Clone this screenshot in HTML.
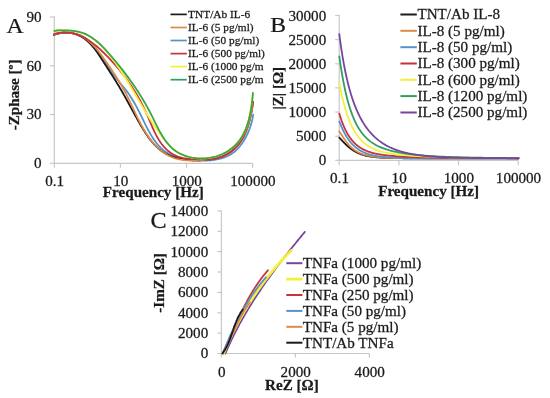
<!DOCTYPE html>
<html><head><meta charset="utf-8"><style>
html,body{margin:0;padding:0;background:#fff;width:550px;height:398px;overflow:hidden;font-family:"Liberation Serif",serif;}
svg{display:block;filter:blur(0.4px)}
</style></head><body>
<svg width="550" height="398" viewBox="0 0 550 398">
<rect width="550" height="398" fill="#fff"/>
<path d="M54.3,16.5 V163.3 H252.6" fill="none" stroke="#c8c8c8" stroke-width="1.2"/>
<path d="M49.8,163.3 H54.3" stroke="#c8c8c8" stroke-width="1.2"/>
<path d="M49.8,114.5 H54.3" stroke="#c8c8c8" stroke-width="1.2"/>
<path d="M49.8,65.8 H54.3" stroke="#c8c8c8" stroke-width="1.2"/>
<path d="M49.8,17.0 H54.3" stroke="#c8c8c8" stroke-width="1.2"/>
<path d="M54.3,163.3 V167.8" stroke="#c8c8c8" stroke-width="1.2"/>
<path d="M120.4,163.3 V167.8" stroke="#c8c8c8" stroke-width="1.2"/>
<path d="M186.5,163.3 V167.8" stroke="#c8c8c8" stroke-width="1.2"/>
<path d="M252.6,163.3 V167.8" stroke="#c8c8c8" stroke-width="1.2"/>
<path d="M54.26,34.50 L55.38,34.16 L56.52,33.85 L57.68,33.58 L58.86,33.34 L60.05,33.14 L61.26,32.97 L62.48,32.84 L63.71,32.75 L64.95,32.69 L66.19,32.67 L67.43,32.68 L68.67,32.74 L69.90,32.83 L71.13,32.96 L72.35,33.13 L73.57,33.34 L74.76,33.58 L75.94,33.87 L77.11,34.20 L78.25,34.57 L79.37,34.98 L80.46,35.43 L81.52,35.92 L82.56,36.45 L83.57,37.02 L84.55,37.63 L85.51,38.28 L86.45,38.95 L87.36,39.66 L88.26,40.41 L89.13,41.18 L89.98,41.98 L90.81,42.80 L91.63,43.65 L92.43,44.52 L93.21,45.42 L93.98,46.34 L94.73,47.27 L95.47,48.22 L96.20,49.19 L96.92,50.17 L97.63,51.16 L98.33,52.16 L99.02,53.18 L99.71,54.20 L100.39,55.23 L101.07,56.26 L101.74,57.29 L102.41,58.33 L103.07,59.37 L103.74,60.41 L104.41,61.44 L105.07,62.47 L105.74,63.49 L106.42,64.51 L107.09,65.52 L107.77,66.52 L108.45,67.52 L109.13,68.51 L109.82,69.50 L110.51,70.49 L111.20,71.46 L111.90,72.44 L112.60,73.40 L113.31,74.37 L114.02,75.33 L114.74,76.28 L115.46,77.23 L116.18,78.18 L116.91,79.12 L117.65,80.06 L118.39,80.99 L119.13,81.92 L119.88,82.85 L120.64,83.77 L121.41,84.70 L122.18,85.61 L122.94,86.53 L123.71,87.45 L124.47,88.37 L125.23,89.30 L125.97,90.23 L126.70,91.17 L127.41,92.11 L128.11,93.06 L128.80,94.02 L129.47,94.99 L130.13,95.96 L130.78,96.94 L131.41,97.93 L132.04,98.92 L132.65,99.92 L133.26,100.93 L133.85,101.95 L134.44,102.97 L135.02,103.99 L135.59,105.03 L136.16,106.07 L136.72,107.11 L137.28,108.17 L137.83,109.22 L138.37,110.29 L138.92,111.36 L139.46,112.44 L140.00,113.52 L140.53,114.61 L141.07,115.70 L141.61,116.80 L142.14,117.90 L142.68,119.01 L143.22,120.12 L143.76,121.23 L144.30,122.34 L144.85,123.45 L145.40,124.56 L145.95,125.66 L146.51,126.77 L147.08,127.86 L147.65,128.96 L148.23,130.05 L148.82,131.13 L149.42,132.20 L150.02,133.26 L150.63,134.32 L151.26,135.36 L151.89,136.39 L152.54,137.42 L153.20,138.42 L153.87,139.42 L154.55,140.39 L155.25,141.35 L155.96,142.30 L156.69,143.23 L157.43,144.13 L158.19,145.02 L158.97,145.89 L159.76,146.74 L160.57,147.56 L161.40,148.36 L162.25,149.14 L163.12,149.89 L164.01,150.61 L164.92,151.31 L165.85,151.98 L166.80,152.62 L167.78,153.24 L168.78,153.82 L169.81,154.37 L170.85,154.89 L171.91,155.39 L173.00,155.86 L174.10,156.30 L175.22,156.72 L176.35,157.11 L177.50,157.47 L178.66,157.81 L179.84,158.13 L181.03,158.43 L182.23,158.70 L183.44,158.95 L184.66,159.18 L185.89,159.39 L187.13,159.58 L188.37,159.76 L189.62,159.91 L190.87,160.05 L192.13,160.17 L193.39,160.27 L194.65,160.36 L195.91,160.43 L197.17,160.49 L198.43,160.54 L199.69,160.57 L200.95,160.59 L202.20,160.60 L203.44,160.60 L204.68,160.58 L205.92,160.54 L207.15,160.49 L208.37,160.43 L209.59,160.35 L210.80,160.25 L212.00,160.13 L213.19,159.99 L214.37,159.83 L215.54,159.64 L216.71,159.44 L217.86,159.21 L219.00,158.96 L220.13,158.68 L221.25,158.38 L222.35,158.05 L223.44,157.70 L224.52,157.31 L225.59,156.90 L226.63,156.46 L227.67,155.98 L228.69,155.48 L229.69,154.94 L230.67,154.37 L231.64,153.76 L232.59,153.12 L233.52,152.44 L234.43,151.73 L235.33,150.98 L236.20,150.20 L237.05,149.38 L237.89,148.52 L238.70,147.64 L239.50,146.73 L240.27,145.79 L241.02,144.82 L241.76,143.83 L242.47,142.81 L243.16,141.78 L243.83,140.72 L244.48,139.64 L245.11,138.55 L245.72,137.45 L246.31,136.33 L246.87,135.20 L247.41,134.05 L247.93,132.90 L248.43,131.74 L248.91,130.58 L249.36,129.41 L249.80,128.24 L250.21,127.07 L250.59,125.90 L250.96,124.73 L251.30,123.57 L251.62,122.41 L251.91,121.26 L252.18,120.12 L252.43,118.98 L252.66,117.86 L252.86,116.76 L253.03,115.67 L253.18,114.59" fill="none" stroke="#5592cc" stroke-width="1.8" stroke-linecap="round" stroke-linejoin="round"/>
<path d="M53.98,34.97 L55.24,34.46 L56.51,34.01 L57.79,33.63 L59.07,33.30 L60.35,33.04 L61.63,32.83 L62.91,32.67 L64.19,32.58 L65.46,32.53 L66.73,32.54 L67.99,32.61 L69.24,32.72 L70.47,32.88 L71.70,33.09 L72.91,33.35 L74.11,33.66 L75.29,34.01 L76.45,34.40 L77.59,34.84 L78.71,35.32 L79.80,35.84 L80.87,36.40 L81.91,36.99 L82.93,37.63 L83.93,38.30 L84.90,39.00 L85.85,39.73 L86.77,40.50 L87.68,41.29 L88.57,42.11 L89.44,42.96 L90.29,43.84 L91.12,44.73 L91.94,45.65 L92.75,46.59 L93.54,47.55 L94.31,48.53 L95.08,49.52 L95.83,50.52 L96.57,51.54 L97.31,52.57 L98.03,53.61 L98.75,54.66 L99.46,55.72 L100.16,56.78 L100.86,57.85 L101.55,58.92 L102.24,59.99 L102.93,61.06 L103.62,62.13 L104.31,63.19 L104.99,64.26 L105.68,65.32 L106.36,66.38 L107.04,67.43 L107.73,68.49 L108.41,69.54 L109.08,70.59 L109.76,71.64 L110.43,72.69 L111.11,73.74 L111.77,74.79 L112.44,75.84 L113.11,76.88 L113.77,77.93 L114.43,78.98 L115.09,80.02 L115.74,81.07 L116.39,82.12 L117.04,83.17 L117.68,84.22 L118.32,85.27 L118.96,86.33 L119.59,87.38 L120.22,88.44 L120.84,89.50 L121.46,90.56 L122.08,91.62 L122.69,92.69 L123.30,93.76 L123.90,94.83 L124.51,95.90 L125.10,96.98 L125.70,98.05 L126.30,99.13 L126.89,100.21 L127.48,101.29 L128.07,102.37 L128.66,103.46 L129.25,104.54 L129.84,105.63 L130.43,106.72 L131.02,107.81 L131.62,108.90 L132.21,109.99 L132.80,111.09 L133.40,112.18 L133.99,113.27 L134.59,114.37 L135.20,115.46 L135.80,116.56 L136.41,117.65 L137.02,118.75 L137.64,119.85 L138.26,120.95 L138.88,122.04 L139.51,123.14 L140.15,124.24 L140.79,125.33 L141.43,126.43 L142.09,127.52 L142.75,128.61 L143.41,129.70 L144.09,130.78 L144.77,131.85 L145.46,132.92 L146.16,133.98 L146.87,135.03 L147.59,136.07 L148.33,137.10 L149.07,138.12 L149.82,139.12 L150.59,140.11 L151.37,141.08 L152.16,142.04 L152.97,142.98 L153.79,143.90 L154.62,144.80 L155.47,145.68 L156.34,146.54 L157.22,147.38 L158.12,148.20 L159.03,148.99 L159.97,149.75 L160.92,150.49 L161.88,151.20 L162.87,151.88 L163.88,152.54 L164.91,153.16 L165.95,153.75 L167.02,154.31 L168.10,154.85 L169.20,155.35 L170.31,155.83 L171.45,156.28 L172.59,156.70 L173.75,157.10 L174.93,157.47 L176.11,157.82 L177.31,158.14 L178.52,158.43 L179.74,158.70 L180.97,158.95 L182.21,159.18 L183.45,159.38 L184.71,159.56 L185.97,159.73 L187.24,159.87 L188.51,159.99 L189.79,160.09 L191.07,160.17 L192.35,160.23 L193.64,160.27 L194.93,160.30 L196.22,160.31 L197.51,160.30 L198.80,160.28 L200.09,160.24 L201.38,160.19 L202.66,160.12 L203.95,160.04 L205.22,159.94 L206.50,159.83 L207.76,159.70 L209.02,159.55 L210.28,159.39 L211.52,159.20 L212.76,158.99 L213.98,158.76 L215.20,158.51 L216.41,158.23 L217.60,157.92 L218.78,157.59 L219.94,157.23 L221.10,156.84 L222.23,156.42 L223.35,155.97 L224.45,155.48 L225.54,154.96 L226.61,154.41 L227.65,153.82 L228.68,153.19 L229.69,152.54 L230.68,151.85 L231.65,151.13 L232.59,150.37 L233.52,149.59 L234.42,148.78 L235.30,147.94 L236.16,147.08 L236.99,146.18 L237.81,145.26 L238.59,144.31 L239.36,143.34 L240.09,142.35 L240.81,141.33 L241.50,140.28 L242.16,139.22 L242.79,138.14 L243.40,137.03 L243.99,135.91 L244.55,134.77 L245.09,133.61 L245.60,132.44 L246.10,131.25 L246.57,130.06 L247.02,128.85 L247.46,127.63 L247.87,126.40 L248.26,125.17 L248.64,123.93 L249.00,122.69 L249.34,121.44 L249.67,120.19 L249.98,118.94 L250.28,117.69 L250.56,116.44 L250.83,115.20 L251.09,113.96 L251.34,112.73 L251.57,111.50 L251.80,110.28 L252.01,109.07 L252.22,107.87 L252.41,106.68 L252.60,105.50 L252.78,104.34 L252.96,103.20 L253.13,102.07" fill="none" stroke="#1a1a1a" stroke-width="1.8" stroke-linecap="round" stroke-linejoin="round"/>
<path d="M54.16,34.49 L55.38,34.06 L56.61,33.68 L57.85,33.36 L59.10,33.08 L60.35,32.86 L61.61,32.68 L62.87,32.56 L64.13,32.48 L65.39,32.45 L66.65,32.46 L67.90,32.53 L69.15,32.63 L70.39,32.78 L71.63,32.98 L72.85,33.22 L74.06,33.50 L75.26,33.82 L76.44,34.18 L77.60,34.58 L78.75,35.02 L79.87,35.50 L80.97,36.02 L82.05,36.57 L83.11,37.16 L84.14,37.79 L85.16,38.44 L86.16,39.13 L87.13,39.85 L88.09,40.59 L89.03,41.37 L89.95,42.17 L90.86,42.99 L91.75,43.84 L92.63,44.71 L93.49,45.60 L94.34,46.50 L95.18,47.43 L96.00,48.37 L96.81,49.33 L97.61,50.30 L98.41,51.29 L99.19,52.28 L99.96,53.29 L100.73,54.30 L101.48,55.32 L102.23,56.35 L102.98,57.38 L103.72,58.42 L104.45,59.45 L105.18,60.49 L105.91,61.52 L106.63,62.56 L107.35,63.59 L108.07,64.63 L108.78,65.67 L109.49,66.70 L110.20,67.74 L110.90,68.77 L111.59,69.81 L112.28,70.85 L112.97,71.89 L113.65,72.93 L114.33,73.97 L115.00,75.01 L115.67,76.06 L116.33,77.10 L116.99,78.15 L117.65,79.20 L118.29,80.25 L118.94,81.31 L119.57,82.36 L120.21,83.42 L120.83,84.48 L121.45,85.55 L122.07,86.62 L122.68,87.69 L123.28,88.76 L123.88,89.84 L124.47,90.92 L125.06,92.01 L125.63,93.10 L126.21,94.19 L126.77,95.29 L127.33,96.39 L127.89,97.49 L128.43,98.60 L128.98,99.71 L129.52,100.83 L130.05,101.95 L130.59,103.07 L131.12,104.19 L131.65,105.31 L132.18,106.44 L132.70,107.57 L133.23,108.69 L133.76,109.82 L134.29,110.95 L134.82,112.08 L135.36,113.21 L135.90,114.34 L136.44,115.47 L136.98,116.60 L137.53,117.73 L138.09,118.85 L138.65,119.97 L139.22,121.09 L139.80,122.21 L140.38,123.33 L140.97,124.44 L141.57,125.55 L142.18,126.66 L142.80,127.76 L143.44,128.86 L144.08,129.95 L144.73,131.03 L145.39,132.11 L146.07,133.18 L146.75,134.24 L147.45,135.29 L148.16,136.33 L148.88,137.36 L149.62,138.38 L150.36,139.38 L151.12,140.37 L151.90,141.35 L152.68,142.31 L153.48,143.25 L154.29,144.18 L155.12,145.09 L155.96,145.98 L156.82,146.85 L157.68,147.70 L158.57,148.53 L159.47,149.34 L160.38,150.12 L161.31,150.88 L162.26,151.62 L163.22,152.33 L164.20,153.02 L165.19,153.67 L166.20,154.31 L167.23,154.91 L168.27,155.48 L169.34,156.02 L170.41,156.54 L171.51,157.02 L172.63,157.47 L173.76,157.88 L174.91,158.26 L176.08,158.61 L177.26,158.92 L178.47,159.20 L179.68,159.45 L180.91,159.67 L182.16,159.86 L183.41,160.03 L184.68,160.17 L185.95,160.28 L187.24,160.37 L188.53,160.44 L189.82,160.48 L191.12,160.51 L192.43,160.52 L193.74,160.50 L195.05,160.48 L196.36,160.43 L197.67,160.37 L198.98,160.30 L200.29,160.22 L201.59,160.13 L202.89,160.02 L204.18,159.91 L205.47,159.79 L206.75,159.67 L208.01,159.53 L209.27,159.39 L210.52,159.23 L211.77,159.06 L212.99,158.87 L214.21,158.67 L215.42,158.44 L216.61,158.19 L217.80,157.92 L218.96,157.62 L220.12,157.29 L221.26,156.93 L222.38,156.53 L223.49,156.10 L224.59,155.64 L225.66,155.14 L226.72,154.59 L227.76,154.01 L228.79,153.39 L229.79,152.73 L230.78,152.04 L231.74,151.31 L232.69,150.55 L233.61,149.75 L234.51,148.93 L235.39,148.07 L236.25,147.18 L237.08,146.27 L237.89,145.33 L238.68,144.36 L239.44,143.37 L240.17,142.36 L240.88,141.32 L241.56,140.26 L242.22,139.18 L242.85,138.08 L243.45,136.97 L244.02,135.83 L244.58,134.68 L245.10,133.52 L245.61,132.34 L246.09,131.15 L246.56,129.95 L247.00,128.75 L247.42,127.53 L247.83,126.31 L248.21,125.08 L248.58,123.84 L248.94,122.61 L249.28,121.37 L249.60,120.13 L249.91,118.89 L250.21,117.65 L250.50,116.42 L250.78,115.19 L251.04,113.96 L251.30,112.75 L251.55,111.54 L251.79,110.33 L252.02,109.14 L252.25,107.97 L252.48,106.80 L252.70,105.65 L252.92,104.51 L253.13,103.39" fill="none" stroke="#dc8a45" stroke-width="1.8" stroke-linecap="round" stroke-linejoin="round"/>
<path d="M53.97,34.04 L55.33,33.68 L56.67,33.37 L58.00,33.10 L59.32,32.89 L60.62,32.72 L61.91,32.59 L63.19,32.51 L64.45,32.47 L65.70,32.48 L66.94,32.53 L68.17,32.62 L69.38,32.75 L70.58,32.92 L71.77,33.12 L72.95,33.36 L74.12,33.64 L75.28,33.95 L76.42,34.30 L77.55,34.68 L78.68,35.09 L79.79,35.53 L80.89,36.00 L81.98,36.50 L83.06,37.03 L84.13,37.58 L85.19,38.16 L86.25,38.77 L87.29,39.40 L88.32,40.05 L89.34,40.72 L90.36,41.42 L91.36,42.13 L92.36,42.86 L93.35,43.61 L94.33,44.38 L95.30,45.16 L96.26,45.96 L97.22,46.77 L98.16,47.59 L99.10,48.43 L100.04,49.27 L100.96,50.13 L101.88,50.99 L102.79,51.87 L103.70,52.74 L104.59,53.63 L105.49,54.52 L106.37,55.41 L107.25,56.31 L108.13,57.21 L108.99,58.11 L109.85,59.02 L110.71,59.93 L111.56,60.85 L112.40,61.77 L113.23,62.69 L114.06,63.62 L114.89,64.55 L115.70,65.48 L116.51,66.42 L117.32,67.36 L118.12,68.31 L118.91,69.26 L119.69,70.22 L120.47,71.17 L121.24,72.14 L122.01,73.10 L122.77,74.07 L123.52,75.05 L124.27,76.03 L125.01,77.01 L125.75,78.00 L126.47,78.99 L127.19,79.98 L127.91,80.98 L128.62,81.99 L129.32,82.99 L130.02,84.01 L130.71,85.02 L131.39,86.04 L132.06,87.07 L132.73,88.10 L133.40,89.13 L134.05,90.17 L134.70,91.22 L135.35,92.26 L135.99,93.31 L136.62,94.37 L137.24,95.43 L137.86,96.50 L138.47,97.57 L139.07,98.64 L139.67,99.72 L140.26,100.80 L140.85,101.89 L141.43,102.99 L142.00,104.08 L142.57,105.19 L143.12,106.29 L143.68,107.40 L144.22,108.52 L144.76,109.64 L145.29,110.77 L145.82,111.90 L146.34,113.03 L146.85,114.18 L147.35,115.32 L147.85,116.47 L148.35,117.62 L148.84,118.78 L149.32,119.94 L149.81,121.10 L150.30,122.26 L150.78,123.42 L151.27,124.58 L151.76,125.74 L152.26,126.89 L152.77,128.04 L153.28,129.19 L153.80,130.33 L154.32,131.46 L154.86,132.58 L155.42,133.70 L155.98,134.81 L156.56,135.91 L157.16,136.99 L157.77,138.07 L158.41,139.13 L159.06,140.18 L159.73,141.21 L160.42,142.23 L161.14,143.24 L161.88,144.22 L162.64,145.18 L163.42,146.12 L164.22,147.04 L165.04,147.93 L165.89,148.80 L166.76,149.63 L167.66,150.44 L168.57,151.21 L169.51,151.95 L170.47,152.66 L171.46,153.33 L172.46,153.97 L173.50,154.56 L174.55,155.11 L175.63,155.62 L176.73,156.09 L177.86,156.51 L179.01,156.89 L180.18,157.24 L181.36,157.55 L182.56,157.82 L183.78,158.06 L185.02,158.27 L186.26,158.46 L187.52,158.62 L188.78,158.76 L190.06,158.87 L191.34,158.97 L192.63,159.05 L193.92,159.11 L195.21,159.17 L196.50,159.21 L197.80,159.25 L199.09,159.28 L200.38,159.31 L201.66,159.33 L202.94,159.35 L204.21,159.36 L205.48,159.36 L206.74,159.35 L207.99,159.32 L209.23,159.27 L210.47,159.19 L211.70,159.09 L212.92,158.96 L214.14,158.79 L215.34,158.59 L216.53,158.36 L217.71,158.08 L218.88,157.76 L220.04,157.39 L221.19,156.99 L222.32,156.56 L223.44,156.08 L224.54,155.56 L225.63,155.02 L226.70,154.43 L227.75,153.81 L228.78,153.16 L229.80,152.47 L230.79,151.75 L231.77,151.01 L232.72,150.23 L233.65,149.42 L234.55,148.58 L235.43,147.72 L236.29,146.83 L237.12,145.91 L237.92,144.97 L238.70,144.01 L239.45,143.02 L240.16,142.00 L240.85,140.97 L241.51,139.92 L242.14,138.84 L242.73,137.75 L243.30,136.64 L243.84,135.51 L244.35,134.37 L244.84,133.21 L245.30,132.04 L245.74,130.86 L246.16,129.67 L246.56,128.47 L246.94,127.26 L247.30,126.04 L247.65,124.82 L247.98,123.59 L248.30,122.36 L248.61,121.13 L248.91,119.89 L249.20,118.66 L249.48,117.42 L249.76,116.19 L250.03,114.96 L250.30,113.74 L250.57,112.52 L250.83,111.31 L251.10,110.11 L251.37,108.92 L251.64,107.74 L251.91,106.57 L252.20,105.41 L252.49,104.26 L252.79,103.14 L253.09,102.03" fill="none" stroke="#c8323c" stroke-width="1.8" stroke-linecap="round" stroke-linejoin="round"/>
<path d="M54.34,30.34 L55.39,30.10 L56.47,29.96 L57.58,29.90 L58.72,29.89 L59.88,29.93 L61.06,29.99 L62.27,30.07 L63.49,30.14 L64.74,30.22 L66.01,30.31 L67.28,30.41 L68.57,30.52 L69.86,30.64 L71.16,30.77 L72.46,30.93 L73.75,31.11 L75.04,31.31 L76.33,31.54 L77.60,31.80 L78.86,32.09 L80.10,32.42 L81.32,32.78 L82.52,33.18 L83.69,33.62 L84.85,34.09 L85.99,34.59 L87.11,35.13 L88.21,35.70 L89.29,36.30 L90.35,36.93 L91.40,37.59 L92.43,38.28 L93.44,38.99 L94.43,39.73 L95.41,40.49 L96.38,41.27 L97.33,42.08 L98.27,42.90 L99.19,43.75 L100.10,44.61 L101.00,45.49 L101.88,46.39 L102.75,47.30 L103.61,48.23 L104.46,49.17 L105.30,50.12 L106.13,51.08 L106.95,52.05 L107.76,53.03 L108.56,54.01 L109.36,55.00 L110.14,56.00 L110.92,57.00 L111.69,58.00 L112.46,59.01 L113.21,60.02 L113.96,61.03 L114.71,62.05 L115.45,63.08 L116.18,64.10 L116.90,65.13 L117.62,66.16 L118.34,67.20 L119.05,68.24 L119.75,69.28 L120.45,70.33 L121.15,71.37 L121.84,72.42 L122.52,73.48 L123.20,74.53 L123.88,75.59 L124.55,76.65 L125.22,77.71 L125.89,78.78 L126.55,79.84 L127.21,80.91 L127.87,81.98 L128.52,83.05 L129.18,84.13 L129.83,85.20 L130.47,86.28 L131.12,87.36 L131.76,88.43 L132.40,89.51 L133.04,90.59 L133.68,91.68 L134.32,92.76 L134.96,93.84 L135.60,94.93 L136.23,96.01 L136.87,97.09 L137.51,98.18 L138.14,99.26 L138.78,100.35 L139.42,101.44 L140.05,102.52 L140.69,103.61 L141.33,104.69 L141.97,105.77 L142.61,106.86 L143.26,107.94 L143.90,109.02 L144.55,110.11 L145.20,111.19 L145.85,112.27 L146.51,113.34 L147.16,114.42 L147.83,115.50 L148.49,116.57 L149.16,117.65 L149.83,118.72 L150.50,119.79 L151.18,120.85 L151.86,121.92 L152.55,122.98 L153.24,124.03 L153.94,125.09 L154.64,126.14 L155.34,127.18 L156.06,128.23 L156.77,129.26 L157.50,130.30 L158.23,131.32 L158.97,132.35 L159.71,133.36 L160.46,134.37 L161.22,135.38 L161.98,136.38 L162.76,137.37 L163.54,138.36 L164.33,139.33 L165.12,140.31 L165.93,141.27 L166.74,142.22 L167.57,143.17 L168.41,144.10 L169.26,145.01 L170.12,145.91 L171.01,146.78 L171.90,147.63 L172.82,148.46 L173.76,149.27 L174.71,150.04 L175.69,150.79 L176.70,151.50 L177.72,152.18 L178.77,152.82 L179.85,153.43 L180.95,154.00 L182.06,154.53 L183.20,155.04 L184.36,155.50 L185.53,155.93 L186.72,156.33 L187.93,156.70 L189.14,157.03 L190.38,157.32 L191.62,157.58 L192.87,157.81 L194.13,158.01 L195.40,158.17 L196.68,158.30 L197.96,158.40 L199.24,158.46 L200.53,158.49 L201.82,158.49 L203.12,158.46 L204.41,158.40 L205.69,158.30 L206.98,158.17 L208.26,158.02 L209.54,157.83 L210.81,157.61 L212.07,157.36 L213.32,157.07 L214.57,156.76 L215.80,156.42 L217.02,156.05 L218.22,155.65 L219.41,155.21 L220.59,154.75 L221.75,154.26 L222.89,153.74 L224.02,153.20 L225.13,152.62 L226.22,152.02 L227.30,151.39 L228.35,150.73 L229.38,150.05 L230.39,149.33 L231.38,148.60 L232.35,147.83 L233.30,147.04 L234.22,146.22 L235.11,145.38 L235.99,144.51 L236.83,143.62 L237.65,142.70 L238.44,141.76 L239.21,140.80 L239.94,139.81 L240.65,138.80 L241.33,137.76 L241.98,136.70 L242.60,135.62 L243.20,134.53 L243.77,133.41 L244.32,132.27 L244.84,131.12 L245.33,129.96 L245.81,128.78 L246.26,127.58 L246.69,126.38 L247.10,125.16 L247.50,123.93 L247.87,122.69 L248.22,121.45 L248.56,120.19 L248.88,118.94 L249.18,117.67 L249.47,116.40 L249.74,115.13 L250.00,113.86 L250.25,112.59 L250.49,111.32 L250.71,110.04 L250.92,108.77 L251.13,107.51 L251.32,106.25 L251.50,104.99 L251.68,103.74 L251.85,102.50 L252.02,101.26 L252.18,100.04 L252.33,98.83 L252.49,97.63 L252.63,96.44 L252.78,95.26 L252.92,94.10" fill="none" stroke="#f4f03a" stroke-width="1.8" stroke-linecap="round" stroke-linejoin="round"/>
<path d="M54.30,31.13 L55.42,30.87 L56.56,30.67 L57.73,30.52 L58.92,30.43 L60.13,30.37 L61.35,30.34 L62.60,30.35 L63.86,30.37 L65.13,30.41 L66.41,30.46 L67.70,30.51 L69.00,30.58 L70.30,30.67 L71.60,30.77 L72.89,30.90 L74.18,31.05 L75.47,31.22 L76.74,31.43 L78.00,31.67 L79.24,31.95 L80.47,32.26 L81.67,32.62 L82.86,33.01 L84.03,33.45 L85.17,33.92 L86.30,34.43 L87.41,34.97 L88.50,35.55 L89.58,36.16 L90.64,36.80 L91.68,37.47 L92.71,38.17 L93.72,38.90 L94.72,39.65 L95.71,40.42 L96.68,41.22 L97.64,42.04 L98.59,42.87 L99.53,43.73 L100.45,44.60 L101.37,45.49 L102.27,46.40 L103.17,47.31 L104.06,48.24 L104.94,49.18 L105.81,50.13 L106.68,51.08 L107.54,52.04 L108.39,53.01 L109.24,53.98 L110.08,54.95 L110.92,55.92 L111.76,56.89 L112.59,57.86 L113.42,58.84 L114.24,59.81 L115.06,60.79 L115.87,61.76 L116.68,62.74 L117.49,63.72 L118.29,64.70 L119.09,65.69 L119.88,66.67 L120.67,67.66 L121.45,68.64 L122.23,69.63 L123.01,70.62 L123.78,71.62 L124.55,72.61 L125.31,73.61 L126.07,74.61 L126.82,75.61 L127.57,76.62 L128.32,77.62 L129.06,78.63 L129.79,79.65 L130.52,80.66 L131.25,81.68 L131.97,82.70 L132.69,83.73 L133.41,84.75 L134.12,85.78 L134.82,86.82 L135.52,87.86 L136.22,88.90 L136.91,89.94 L137.59,90.99 L138.28,92.04 L138.95,93.10 L139.63,94.16 L140.30,95.22 L140.96,96.29 L141.62,97.36 L142.27,98.44 L142.92,99.52 L143.57,100.60 L144.21,101.69 L144.85,102.79 L145.48,103.89 L146.10,104.99 L146.73,106.10 L147.34,107.21 L147.95,108.33 L148.56,109.45 L149.17,110.58 L149.76,111.72 L150.36,112.86 L150.95,114.00 L151.53,115.15 L152.11,116.31 L152.69,117.47 L153.26,118.63 L153.83,119.80 L154.40,120.96 L154.97,122.13 L155.55,123.29 L156.12,124.46 L156.70,125.62 L157.28,126.77 L157.87,127.92 L158.46,129.06 L159.06,130.20 L159.67,131.33 L160.29,132.45 L160.91,133.55 L161.55,134.65 L162.20,135.73 L162.86,136.80 L163.53,137.85 L164.22,138.89 L164.92,139.91 L165.64,140.91 L166.38,141.90 L167.13,142.86 L167.91,143.80 L168.70,144.72 L169.51,145.62 L170.35,146.49 L171.21,147.34 L172.09,148.16 L173.00,148.95 L173.93,149.71 L174.89,150.45 L175.88,151.15 L176.90,151.82 L177.94,152.46 L179.01,153.07 L180.11,153.64 L181.23,154.18 L182.37,154.69 L183.53,155.17 L184.72,155.61 L185.92,156.03 L187.14,156.41 L188.38,156.75 L189.63,157.07 L190.89,157.35 L192.17,157.60 L193.45,157.82 L194.74,158.01 L196.05,158.16 L197.35,158.28 L198.66,158.37 L199.98,158.43 L201.30,158.45 L202.62,158.45 L203.93,158.41 L205.25,158.34 L206.56,158.23 L207.86,158.10 L209.16,157.93 L210.45,157.73 L211.74,157.50 L213.01,157.23 L214.27,156.94 L215.51,156.61 L216.74,156.25 L217.96,155.85 L219.16,155.43 L220.34,154.97 L221.50,154.49 L222.65,153.97 L223.78,153.43 L224.89,152.85 L225.98,152.25 L227.05,151.61 L228.10,150.95 L229.13,150.26 L230.13,149.54 L231.12,148.80 L232.08,148.03 L233.02,147.23 L233.94,146.41 L234.84,145.56 L235.71,144.69 L236.55,143.79 L237.37,142.87 L238.17,141.93 L238.94,140.96 L239.69,139.97 L240.40,138.96 L241.09,137.92 L241.76,136.87 L242.40,135.79 L243.01,134.70 L243.60,133.59 L244.16,132.46 L244.70,131.31 L245.22,130.15 L245.72,128.98 L246.19,127.79 L246.65,126.59 L247.08,125.38 L247.49,124.15 L247.88,122.92 L248.26,121.68 L248.61,120.43 L248.95,119.18 L249.27,117.92 L249.57,116.65 L249.86,115.38 L250.13,114.10 L250.39,112.83 L250.63,111.55 L250.86,110.27 L251.07,109.00 L251.27,107.72 L251.46,106.45 L251.64,105.18 L251.81,103.92 L251.96,102.66 L252.11,101.40 L252.25,100.16 L252.37,98.92 L252.49,97.69 L252.61,96.47 L252.71,95.26 L252.81,94.06 L252.90,92.88" fill="none" stroke="#38a845" stroke-width="1.8" stroke-linecap="round" stroke-linejoin="round"/>

<path d="M339.2,15.0 V160.3 H518.2" fill="none" stroke="#c8c8c8" stroke-width="1.2"/>
<path d="M335.2,160.3 H339.2" stroke="#c8c8c8" stroke-width="1.2"/>
<path d="M335.2,136.2 H339.2" stroke="#c8c8c8" stroke-width="1.2"/>
<path d="M335.2,112.0 H339.2" stroke="#c8c8c8" stroke-width="1.2"/>
<path d="M335.2,87.9 H339.2" stroke="#c8c8c8" stroke-width="1.2"/>
<path d="M335.2,63.8 H339.2" stroke="#c8c8c8" stroke-width="1.2"/>
<path d="M335.2,39.6 H339.2" stroke="#c8c8c8" stroke-width="1.2"/>
<path d="M335.2,15.5 H339.2" stroke="#c8c8c8" stroke-width="1.2"/>
<path d="M339.2,160.3 V165.3" stroke="#c8c8c8" stroke-width="1.2"/>
<path d="M398.9,160.3 V165.3" stroke="#c8c8c8" stroke-width="1.2"/>
<path d="M458.5,160.3 V165.3" stroke="#c8c8c8" stroke-width="1.2"/>
<path d="M518.2,160.3 V165.3" stroke="#c8c8c8" stroke-width="1.2"/>
<path d="M339.30,137.61 L339.40,137.72 L339.50,137.82 L339.60,137.92 L339.70,138.03 L339.80,138.13 L339.90,138.24 L340.00,138.35 L340.10,138.45 L340.20,138.56 L340.30,138.66 L340.40,138.77 L340.50,138.88 L340.60,138.98 L340.70,139.09 L340.80,139.20 L340.90,139.31 L341.00,139.41 L341.10,139.52 L341.20,139.63 L341.30,139.74 L341.40,139.84 L341.50,139.95 L341.60,140.06 L341.70,140.17 L341.80,140.27 L341.90,140.38 L342.00,140.49 L342.10,140.59 L342.20,140.70 L342.30,140.81 L342.40,140.92 L342.50,141.02 L342.60,141.13 L342.70,141.24 L342.80,141.34 L342.90,141.45 L343.00,141.55 L343.10,141.66 L343.20,141.76 L343.30,141.87 L343.40,141.98 L343.50,142.08 L343.60,142.18 L343.70,142.29 L343.80,142.39 L343.90,142.50 L344.00,142.60 L344.10,142.70 L344.20,142.81 L344.30,142.91 L344.40,143.01 L344.50,143.11 L344.60,143.22 L344.70,143.32 L344.80,143.42 L344.90,143.52 L345.00,143.62 L345.10,143.72 L345.20,143.82 L345.30,143.92 L345.40,144.02 L345.50,144.12 L345.60,144.21 L345.70,144.31 L345.80,144.41 L345.90,144.51 L346.00,144.60 L346.10,144.70 L346.20,144.79 L346.30,144.89 L346.40,144.98 L346.50,145.08 L346.60,145.17 L346.70,145.27 L346.80,145.36 L346.90,145.45 L347.00,145.55 L347.10,145.64 L347.20,145.73 L347.30,145.82 L347.40,145.91 L347.50,146.00 L347.60,146.09 L347.70,146.18 L347.80,146.27 L347.90,146.36 L348.00,146.45 L348.10,146.53 L348.20,146.62 L348.30,146.71 L348.40,146.79 L348.50,146.88 L348.60,146.97 L348.70,147.05 L348.80,147.14 L348.90,147.22 L349.00,147.30 L349.10,147.39 L349.20,147.47 L349.30,147.55 L349.40,147.63 L349.50,147.71 L349.60,147.79 L349.70,147.87 L349.80,147.95 L349.90,148.03 L350.00,148.11 L350.10,148.19 L350.20,148.27 L350.30,148.35 L350.40,148.42 L350.50,148.50 L350.60,148.58 L350.70,148.65 L350.80,148.73 L350.90,148.80 L351.00,148.88 L351.10,148.95 L351.20,149.02 L351.30,149.10 L351.40,149.17 L351.50,149.24 L351.60,149.31 L351.70,149.38 L351.80,149.45 L351.90,149.52 L352.00,149.59 L352.10,149.66 L352.20,149.73 L352.30,149.80 L352.40,149.87 L352.50,149.94 L352.60,150.00 L352.70,150.07 L352.80,150.14 L352.90,150.20 L353.00,150.27 L353.10,150.33 L353.20,150.40 L353.30,150.46 L353.40,150.52 L353.50,150.59 L353.60,150.65 L353.70,150.71 L353.80,150.77 L353.90,150.83 L354.00,150.90 L354.10,150.96 L354.20,151.02 L354.30,151.08 L354.40,151.14 L354.50,151.19 L354.60,151.25 L354.70,151.31 L354.80,151.37 L354.90,151.43 L355.00,151.48 L355.10,151.54 L355.20,151.59 L355.30,151.65 L355.40,151.71 L355.50,151.76 L355.60,151.81 L355.70,151.87 L355.80,151.92 L355.90,151.98 L356.00,152.03 L356.10,152.08 L356.20,152.13 L356.30,152.18 L356.40,152.24 L356.50,152.29 L356.60,152.34 L356.70,152.39 L356.80,152.44 L356.90,152.49 L357.00,152.54 L357.10,152.58 L357.20,152.63 L357.30,152.68 L357.40,152.73 L357.50,152.78 L357.60,152.82 L357.70,152.87 L357.80,152.92 L357.90,152.96 L358.00,153.01 L358.10,153.05 L358.20,153.10 L358.30,153.14 L358.40,153.19 L358.50,153.23 L358.60,153.27 L358.70,153.32 L358.80,153.36 L358.90,153.40 L359.00,153.44 L359.10,153.49 L359.20,153.53 L359.30,153.57 L360.30,153.96 L361.30,154.33 L362.30,154.66 L363.30,154.97 L364.30,155.25 L365.30,155.52 L366.30,155.76 L367.30,155.98 L368.30,156.18 L369.30,156.37 L370.30,156.54 L371.30,156.69 L372.30,156.83 L373.30,156.96 L374.30,157.08 L375.30,157.19 L376.30,157.29 L377.30,157.38 L378.30,157.46 L379.30,157.54 L380.30,157.61 L381.30,157.67 L382.30,157.73 L383.30,157.78 L384.30,157.83 L385.30,157.87 L386.30,157.91 L387.30,157.95 L388.30,157.98 L389.30,158.01 L390.30,158.04 L391.30,158.06 L392.30,158.08 L393.30,158.10 L394.30,158.12 L395.30,158.14 L396.30,158.15 L397.30,158.17 L398.30,158.18 L399.30,158.19 L400.30,158.20 L401.30,158.21 L402.30,158.22 L403.30,158.23 L404.30,158.23 L405.30,158.24 L406.30,158.24 L407.30,158.25 L408.30,158.25 L409.30,158.26 L410.30,158.26 L411.30,158.27 L412.30,158.27 L413.30,158.27 L414.30,158.27 L415.30,158.28 L416.30,158.28 L417.30,158.28 L418.30,158.28 L419.30,158.28 L420.30,158.29 L421.30,158.29 L422.30,158.29 L423.30,158.29 L424.30,158.29 L425.30,158.29 L426.30,158.29 L427.30,158.29 L428.30,158.29 L429.30,158.29 L430.30,158.29 L431.30,158.30 L432.30,158.30 L433.30,158.30 L434.30,158.30 L435.30,158.30 L436.30,158.30 L437.30,158.30 L438.30,158.30 L439.30,158.30 L440.30,158.30 L441.30,158.30 L442.30,158.30 L443.30,158.30 L444.30,158.30 L445.30,158.30 L446.30,158.30 L447.30,158.30 L448.30,158.30 L449.30,158.30 L450.30,158.30 L451.30,158.30 L452.30,158.30 L453.30,158.30 L454.30,158.30 L455.30,158.30 L456.30,158.30 L457.30,158.30 L458.30,158.30 L459.30,158.30 L460.30,158.30 L461.30,158.30 L462.30,158.30 L463.30,158.30 L464.30,158.30 L465.30,158.30 L466.30,158.30 L467.30,158.30 L468.30,158.30 L469.30,158.30 L470.30,158.30 L471.30,158.30 L472.30,158.30 L473.30,158.30 L474.30,158.30 L475.30,158.30 L476.30,158.30 L477.30,158.30 L478.30,158.30 L479.30,158.30 L480.30,158.30 L481.30,158.30 L482.30,158.30 L483.30,158.30 L484.30,158.30 L485.30,158.30 L486.30,158.30 L487.30,158.30 L488.30,158.30 L489.30,158.30 L490.30,158.30 L491.30,158.30 L492.30,158.30 L493.30,158.30 L494.30,158.30 L495.30,158.30 L496.30,158.30 L497.30,158.30 L498.30,158.30 L499.30,158.30 L500.30,158.30 L501.30,158.30 L502.30,158.30 L503.30,158.30 L504.30,158.30 L505.30,158.30 L506.30,158.30 L507.30,158.30 L508.30,158.30 L509.30,158.30 L510.30,158.30 L511.30,158.30 L512.30,158.30 L513.30,158.30 L514.30,158.30 L515.30,158.30 L516.30,158.30 L517.30,158.30 L518.30,158.30 L518.50,158.30" fill="none" stroke="#1a1a1a" stroke-width="1.8" stroke-linecap="round" stroke-linejoin="round"/>
<path d="M339.30,131.54 L339.40,131.66 L339.50,131.78 L339.60,131.91 L339.70,132.03 L339.80,132.16 L339.90,132.30 L340.00,132.43 L340.10,132.57 L340.20,132.71 L340.30,132.85 L340.40,132.99 L340.50,133.14 L340.60,133.28 L340.70,133.43 L340.80,133.58 L340.90,133.73 L341.00,133.88 L341.10,134.04 L341.20,134.19 L341.30,134.34 L341.40,134.50 L341.50,134.66 L341.60,134.81 L341.70,134.97 L341.80,135.13 L341.90,135.28 L342.00,135.44 L342.10,135.60 L342.20,135.76 L342.30,135.91 L342.40,136.07 L342.50,136.23 L342.60,136.39 L342.70,136.54 L342.80,136.70 L342.90,136.86 L343.00,137.02 L343.10,137.17 L343.20,137.33 L343.30,137.48 L343.40,137.64 L343.50,137.79 L343.60,137.95 L343.70,138.10 L343.80,138.26 L343.90,138.41 L344.00,138.56 L344.10,138.71 L344.20,138.86 L344.30,139.01 L344.40,139.16 L344.50,139.31 L344.60,139.46 L344.70,139.60 L344.80,139.75 L344.90,139.90 L345.00,140.04 L345.10,140.18 L345.20,140.33 L345.30,140.47 L345.40,140.61 L345.50,140.75 L345.60,140.89 L345.70,141.03 L345.80,141.17 L345.90,141.31 L346.00,141.44 L346.10,141.58 L346.20,141.71 L346.30,141.85 L346.40,141.98 L346.50,142.11 L346.60,142.24 L346.70,142.37 L346.80,142.50 L346.90,142.63 L347.00,142.76 L347.10,142.88 L347.20,143.01 L347.30,143.13 L347.40,143.26 L347.50,143.38 L347.60,143.50 L347.70,143.62 L347.80,143.74 L347.90,143.86 L348.00,143.98 L348.10,144.10 L348.20,144.22 L348.30,144.33 L348.40,144.45 L348.50,144.56 L348.60,144.68 L348.70,144.79 L348.80,144.90 L348.90,145.01 L349.00,145.12 L349.10,145.23 L349.20,145.34 L349.30,145.45 L349.40,145.55 L349.50,145.66 L349.60,145.76 L349.70,145.87 L349.80,145.97 L349.90,146.07 L350.00,146.17 L350.10,146.27 L350.20,146.38 L350.30,146.47 L350.40,146.57 L350.50,146.67 L350.60,146.77 L350.70,146.86 L350.80,146.96 L350.90,147.05 L351.00,147.15 L351.10,147.24 L351.20,147.33 L351.30,147.42 L351.40,147.51 L351.50,147.61 L351.60,147.69 L351.70,147.78 L351.80,147.87 L351.90,147.96 L352.00,148.04 L352.10,148.13 L352.20,148.22 L352.30,148.30 L352.40,148.38 L352.50,148.47 L352.60,148.55 L352.70,148.63 L352.80,148.71 L352.90,148.79 L353.00,148.87 L353.10,148.95 L353.20,149.03 L353.30,149.11 L353.40,149.18 L353.50,149.26 L353.60,149.34 L353.70,149.41 L353.80,149.49 L353.90,149.56 L354.00,149.63 L354.10,149.71 L354.20,149.78 L354.30,149.85 L354.40,149.92 L354.50,149.99 L354.60,150.06 L354.70,150.13 L354.80,150.20 L354.90,150.27 L355.00,150.33 L355.10,150.40 L355.20,150.47 L355.30,150.53 L355.40,150.60 L355.50,150.66 L355.60,150.73 L355.70,150.79 L355.80,150.85 L355.90,150.92 L356.00,150.98 L356.10,151.04 L356.20,151.10 L356.30,151.16 L356.40,151.22 L356.50,151.28 L356.60,151.34 L356.70,151.40 L356.80,151.46 L356.90,151.51 L357.00,151.57 L357.10,151.63 L357.20,151.68 L357.30,151.74 L357.40,151.79 L357.50,151.85 L357.60,151.90 L357.70,151.96 L357.80,152.01 L357.90,152.06 L358.00,152.11 L358.10,152.17 L358.20,152.22 L358.30,152.27 L358.40,152.32 L358.50,152.37 L358.60,152.42 L358.70,152.47 L358.80,152.52 L358.90,152.57 L359.00,152.62 L359.10,152.66 L359.20,152.71 L359.30,152.76 L360.30,153.21 L361.30,153.62 L362.30,154.00 L363.30,154.35 L364.30,154.67 L365.30,154.96 L366.30,155.23 L367.30,155.48 L368.30,155.71 L369.30,155.92 L370.30,156.11 L371.30,156.29 L372.30,156.45 L373.30,156.60 L374.30,156.74 L375.30,156.87 L376.30,156.98 L377.30,157.09 L378.30,157.19 L379.30,157.28 L380.30,157.36 L381.30,157.44 L382.30,157.51 L383.30,157.57 L384.30,157.63 L385.30,157.68 L386.30,157.73 L387.30,157.78 L388.30,157.82 L389.30,157.86 L390.30,157.90 L391.30,157.93 L392.30,157.96 L393.30,157.99 L394.30,158.01 L395.30,158.04 L396.30,158.06 L397.30,158.08 L398.30,158.09 L399.30,158.11 L400.30,158.13 L401.30,158.14 L402.30,158.15 L403.30,158.17 L404.30,158.18 L405.30,158.19 L406.30,158.20 L407.30,158.20 L408.30,158.21 L409.30,158.22 L410.30,158.23 L411.30,158.23 L412.30,158.24 L413.30,158.24 L414.30,158.25 L415.30,158.25 L416.30,158.26 L417.30,158.26 L418.30,158.26 L419.30,158.27 L420.30,158.27 L421.30,158.27 L422.30,158.27 L423.30,158.28 L424.30,158.28 L425.30,158.28 L426.30,158.28 L427.30,158.28 L428.30,158.28 L429.30,158.29 L430.30,158.29 L431.30,158.29 L432.30,158.29 L433.30,158.29 L434.30,158.29 L435.30,158.29 L436.30,158.29 L437.30,158.29 L438.30,158.29 L439.30,158.29 L440.30,158.29 L441.30,158.29 L442.30,158.30 L443.30,158.30 L444.30,158.30 L445.30,158.30 L446.30,158.30 L447.30,158.30 L448.30,158.30 L449.30,158.30 L450.30,158.30 L451.30,158.30 L452.30,158.30 L453.30,158.30 L454.30,158.30 L455.30,158.30 L456.30,158.30 L457.30,158.30 L458.30,158.30 L459.30,158.30 L460.30,158.30 L461.30,158.30 L462.30,158.30 L463.30,158.30 L464.30,158.30 L465.30,158.30 L466.30,158.30 L467.30,158.30 L468.30,158.30 L469.30,158.30 L470.30,158.30 L471.30,158.30 L472.30,158.30 L473.30,158.30 L474.30,158.30 L475.30,158.30 L476.30,158.30 L477.30,158.30 L478.30,158.30 L479.30,158.30 L480.30,158.30 L481.30,158.30 L482.30,158.30 L483.30,158.30 L484.30,158.30 L485.30,158.30 L486.30,158.30 L487.30,158.30 L488.30,158.30 L489.30,158.30 L490.30,158.30 L491.30,158.30 L492.30,158.30 L493.30,158.30 L494.30,158.30 L495.30,158.30 L496.30,158.30 L497.30,158.30 L498.30,158.30 L499.30,158.30 L500.30,158.30 L501.30,158.30 L502.30,158.30 L503.30,158.30 L504.30,158.30 L505.30,158.30 L506.30,158.30 L507.30,158.30 L508.30,158.30 L509.30,158.30 L510.30,158.30 L511.30,158.30 L512.30,158.30 L513.30,158.30 L514.30,158.30 L515.30,158.30 L516.30,158.30 L517.30,158.30 L518.30,158.30 L518.50,158.30" fill="none" stroke="#dc8a45" stroke-width="1.8" stroke-linecap="round" stroke-linejoin="round"/>
<path d="M339.30,121.90 L339.40,121.49 L339.50,121.71 L339.60,121.98 L339.70,122.25 L339.80,122.52 L339.90,122.78 L340.00,123.05 L340.10,123.31 L340.20,123.57 L340.30,123.83 L340.40,124.08 L340.50,124.34 L340.60,124.59 L340.70,124.84 L340.80,125.09 L340.90,125.33 L341.00,125.58 L341.10,125.82 L341.20,126.06 L341.30,126.30 L341.40,126.54 L341.50,126.77 L341.60,127.01 L341.70,127.24 L341.80,127.47 L341.90,127.70 L342.00,127.93 L342.10,128.15 L342.20,128.37 L342.30,128.60 L342.40,128.82 L342.50,129.04 L342.60,129.25 L342.70,129.47 L342.80,129.68 L342.90,129.90 L343.00,130.11 L343.10,130.32 L343.20,130.52 L343.30,130.73 L343.40,130.93 L343.50,131.14 L343.60,131.34 L343.70,131.54 L343.80,131.74 L343.90,131.93 L344.00,132.13 L344.10,132.32 L344.20,132.52 L344.30,132.71 L344.40,132.90 L344.50,133.09 L344.60,133.27 L344.70,133.46 L344.80,133.64 L344.90,133.83 L345.00,134.01 L345.10,134.19 L345.20,134.37 L345.30,134.54 L345.40,134.72 L345.50,134.90 L345.60,135.07 L345.70,135.24 L345.80,135.41 L345.90,135.58 L346.00,135.75 L346.10,135.92 L346.20,136.09 L346.30,136.25 L346.40,136.41 L346.50,136.58 L346.60,136.74 L346.70,136.90 L346.80,137.06 L346.90,137.21 L347.00,137.37 L347.10,137.53 L347.20,137.68 L347.30,137.83 L347.40,137.98 L347.50,138.14 L347.60,138.29 L347.70,138.43 L347.80,138.58 L347.90,138.73 L348.00,138.87 L348.10,139.02 L348.20,139.16 L348.30,139.30 L348.40,139.44 L348.50,139.58 L348.60,139.72 L348.70,139.86 L348.80,140.00 L348.90,140.13 L349.00,140.27 L349.10,140.40 L349.20,140.53 L349.30,140.67 L349.40,140.80 L349.50,140.93 L349.60,141.06 L349.70,141.18 L349.80,141.31 L349.90,141.44 L350.00,141.56 L350.10,141.69 L350.20,141.81 L350.30,141.93 L350.40,142.05 L350.50,142.17 L350.60,142.29 L350.70,142.41 L350.80,142.53 L350.90,142.65 L351.00,142.76 L351.10,142.88 L351.20,142.99 L351.30,143.11 L351.40,143.22 L351.50,143.33 L351.60,143.44 L351.70,143.55 L351.80,143.66 L351.90,143.77 L352.00,143.88 L352.10,143.99 L352.20,144.09 L352.30,144.20 L352.40,144.30 L352.50,144.41 L352.60,144.51 L352.70,144.61 L352.80,144.71 L352.90,144.81 L353.00,144.91 L353.10,145.01 L353.20,145.11 L353.30,145.21 L353.40,145.31 L353.50,145.40 L353.60,145.50 L353.70,145.59 L353.80,145.69 L353.90,145.78 L354.00,145.87 L354.10,145.97 L354.20,146.06 L354.30,146.15 L354.40,146.24 L354.50,146.33 L354.60,146.42 L354.70,146.51 L354.80,146.59 L354.90,146.68 L355.00,146.77 L355.10,146.85 L355.20,146.94 L355.30,147.02 L355.40,147.10 L355.50,147.19 L355.60,147.27 L355.70,147.35 L355.80,147.43 L355.90,147.51 L356.00,147.59 L356.10,147.67 L356.20,147.75 L356.30,147.83 L356.40,147.91 L356.50,147.99 L356.60,148.06 L356.70,148.14 L356.80,148.21 L356.90,148.29 L357.00,148.36 L357.10,148.44 L357.20,148.51 L357.30,148.58 L357.40,148.65 L357.50,148.73 L357.60,148.80 L357.70,148.87 L357.80,148.94 L357.90,149.01 L358.00,149.08 L358.10,149.14 L358.20,149.21 L358.30,149.28 L358.40,149.35 L358.50,149.41 L358.60,149.48 L358.70,149.54 L358.80,149.61 L358.90,149.67 L359.00,149.74 L359.10,149.80 L359.20,149.86 L359.30,149.93 L360.30,150.53 L361.30,151.09 L362.30,151.60 L363.30,152.08 L364.30,152.53 L365.30,152.94 L366.30,153.33 L367.30,153.69 L368.30,154.02 L369.30,154.32 L370.30,154.61 L371.30,154.87 L372.30,155.12 L373.30,155.35 L374.30,155.56 L375.30,155.76 L376.30,155.94 L377.30,156.11 L378.30,156.27 L379.30,156.41 L380.30,156.55 L381.30,156.67 L382.30,156.79 L383.30,156.90 L384.30,157.00 L385.30,157.09 L386.30,157.18 L387.30,157.26 L388.30,157.33 L389.30,157.40 L390.30,157.47 L391.30,157.53 L392.30,157.58 L393.30,157.63 L394.30,157.68 L395.30,157.73 L396.30,157.77 L397.30,157.81 L398.30,157.84 L399.30,157.87 L400.30,157.91 L401.30,157.93 L402.30,157.96 L403.30,157.98 L404.30,158.01 L405.30,158.03 L406.30,158.05 L407.30,158.07 L408.30,158.08 L409.30,158.10 L410.30,158.11 L411.30,158.13 L412.30,158.14 L413.30,158.15 L414.30,158.16 L415.30,158.17 L416.30,158.18 L417.30,158.19 L418.30,158.20 L419.30,158.20 L420.30,158.21 L421.30,158.22 L422.30,158.22 L423.30,158.23 L424.30,158.23 L425.30,158.24 L426.30,158.24 L427.30,158.25 L428.30,158.25 L429.30,158.25 L430.30,158.26 L431.30,158.26 L432.30,158.26 L433.30,158.27 L434.30,158.27 L435.30,158.27 L436.30,158.27 L437.30,158.27 L438.30,158.28 L439.30,158.28 L440.30,158.28 L441.30,158.28 L442.30,158.28 L443.30,158.28 L444.30,158.29 L445.30,158.29 L446.30,158.29 L447.30,158.29 L448.30,158.29 L449.30,158.29 L450.30,158.29 L451.30,158.29 L452.30,158.29 L453.30,158.29 L454.30,158.29 L455.30,158.29 L456.30,158.29 L457.30,158.29 L458.30,158.29 L459.30,158.30 L460.30,158.30 L461.30,158.30 L462.30,158.30 L463.30,158.30 L464.30,158.30 L465.30,158.30 L466.30,158.30 L467.30,158.30 L468.30,158.30 L469.30,158.30 L470.30,158.30 L471.30,158.30 L472.30,158.30 L473.30,158.30 L474.30,158.30 L475.30,158.30 L476.30,158.30 L477.30,158.30 L478.30,158.30 L479.30,158.30 L480.30,158.30 L481.30,158.30 L482.30,158.30 L483.30,158.30 L484.30,158.30 L485.30,158.30 L486.30,158.30 L487.30,158.30 L488.30,158.30 L489.30,158.30 L490.30,158.30 L491.30,158.30 L492.30,158.30 L493.30,158.30 L494.30,158.30 L495.30,158.30 L496.30,158.30 L497.30,158.30 L498.30,158.30 L499.30,158.30 L500.30,158.30 L501.30,158.30 L502.30,158.30 L503.30,158.30 L504.30,158.30 L505.30,158.30 L506.30,158.30 L507.30,158.30 L508.30,158.30 L509.30,158.30 L510.30,158.30 L511.30,158.30 L512.30,158.30 L513.30,158.30 L514.30,158.30 L515.30,158.30 L516.30,158.30 L517.30,158.30 L518.30,158.30 L518.50,158.30" fill="none" stroke="#5592cc" stroke-width="1.8" stroke-linecap="round" stroke-linejoin="round"/>
<path d="M339.30,113.62 L339.40,113.95 L339.50,114.29 L339.60,114.62 L339.70,114.94 L339.80,115.27 L339.90,115.59 L340.00,115.91 L340.10,116.23 L340.20,116.54 L340.30,116.86 L340.40,117.16 L340.50,117.47 L340.60,117.78 L340.70,118.08 L340.80,118.38 L340.90,118.67 L341.00,118.97 L341.10,119.26 L341.20,119.55 L341.30,119.84 L341.40,120.12 L341.50,120.41 L341.60,120.69 L341.70,120.96 L341.80,121.24 L341.90,121.51 L342.00,121.79 L342.10,122.05 L342.20,122.32 L342.30,122.59 L342.40,122.85 L342.50,123.11 L342.60,123.37 L342.70,123.62 L342.80,123.88 L342.90,124.13 L343.00,124.38 L343.10,124.63 L343.20,124.87 L343.30,125.12 L343.40,125.36 L343.50,125.60 L343.60,125.84 L343.70,126.07 L343.80,126.31 L343.90,126.54 L344.00,126.77 L344.10,127.00 L344.20,127.23 L344.30,127.45 L344.40,127.67 L344.50,127.90 L344.60,128.12 L344.70,128.33 L344.80,128.55 L344.90,128.76 L345.00,128.98 L345.10,129.19 L345.20,129.40 L345.30,129.60 L345.40,129.81 L345.50,130.01 L345.60,130.21 L345.70,130.42 L345.80,130.61 L345.90,130.81 L346.00,131.01 L346.10,131.20 L346.20,131.39 L346.30,131.59 L346.40,131.78 L346.50,131.96 L346.60,132.15 L346.70,132.34 L346.80,132.52 L346.90,132.70 L347.00,132.88 L347.10,133.06 L347.20,133.24 L347.30,133.42 L347.40,133.59 L347.50,133.76 L347.60,133.94 L347.70,134.11 L347.80,134.28 L347.90,134.44 L348.00,134.61 L348.10,134.78 L348.20,134.94 L348.30,135.10 L348.40,135.26 L348.50,135.42 L348.60,135.58 L348.70,135.74 L348.80,135.90 L348.90,136.05 L349.00,136.21 L349.10,136.36 L349.20,136.51 L349.30,136.66 L349.40,136.81 L349.50,136.96 L349.60,137.10 L349.70,137.25 L349.80,137.39 L349.90,137.54 L350.00,137.68 L350.10,137.82 L350.20,137.96 L350.30,138.10 L350.40,138.24 L350.50,138.37 L350.60,138.51 L350.70,138.64 L350.80,138.78 L350.90,138.91 L351.00,139.04 L351.10,139.17 L351.20,139.30 L351.30,139.43 L351.40,139.56 L351.50,139.68 L351.60,139.81 L351.70,139.93 L351.80,140.05 L351.90,140.18 L352.00,140.30 L352.10,140.42 L352.20,140.54 L352.30,140.66 L352.40,140.77 L352.50,140.89 L352.60,141.01 L352.70,141.12 L352.80,141.23 L352.90,141.35 L353.00,141.46 L353.10,141.57 L353.20,141.68 L353.30,141.79 L353.40,141.90 L353.50,142.01 L353.60,142.11 L353.70,142.22 L353.80,142.33 L353.90,142.43 L354.00,142.53 L354.10,142.64 L354.20,142.74 L354.30,142.84 L354.40,142.94 L354.50,143.04 L354.60,143.14 L354.70,143.24 L354.80,143.33 L354.90,143.43 L355.00,143.53 L355.10,143.62 L355.20,143.72 L355.30,143.81 L355.40,143.90 L355.50,144.00 L355.60,144.09 L355.70,144.18 L355.80,144.27 L355.90,144.36 L356.00,144.45 L356.10,144.53 L356.20,144.62 L356.30,144.71 L356.40,144.79 L356.50,144.88 L356.60,144.96 L356.70,145.05 L356.80,145.13 L356.90,145.22 L357.00,145.30 L357.10,145.38 L357.20,145.46 L357.30,145.54 L357.40,145.62 L357.50,145.70 L357.60,145.78 L357.70,145.86 L357.80,145.93 L357.90,146.01 L358.00,146.09 L358.10,146.16 L358.20,146.24 L358.30,146.31 L358.40,146.38 L358.50,146.46 L358.60,146.53 L358.70,146.60 L358.80,146.67 L358.90,146.75 L359.00,146.82 L359.10,146.89 L359.20,146.96 L359.30,147.03 L360.30,147.69 L361.30,148.30 L362.30,148.87 L363.30,149.40 L364.30,149.90 L365.30,150.35 L366.30,150.78 L367.30,151.18 L368.30,151.55 L369.30,151.89 L370.30,152.22 L371.30,152.52 L372.30,152.80 L373.30,153.06 L374.30,153.31 L375.30,153.54 L376.30,153.76 L377.30,153.96 L378.30,154.15 L379.30,154.33 L380.30,154.50 L381.30,154.66 L382.30,154.81 L383.30,154.95 L384.30,155.09 L385.30,155.21 L386.30,155.33 L387.30,155.44 L388.30,155.55 L389.30,155.65 L390.30,155.75 L391.30,155.84 L392.30,155.93 L393.30,156.01 L394.30,156.09 L395.30,156.17 L396.30,156.24 L397.30,156.31 L398.30,156.37 L399.30,156.44 L400.30,156.50 L401.30,156.56 L402.30,156.61 L403.30,156.66 L404.30,156.72 L405.30,156.76 L406.30,156.81 L407.30,156.86 L408.30,156.90 L409.30,156.94 L410.30,156.98 L411.30,157.02 L412.30,157.06 L413.30,157.10 L414.30,157.13 L415.30,157.16 L416.30,157.20 L417.30,157.23 L418.30,157.26 L419.30,157.29 L420.30,157.32 L421.30,157.34 L422.30,157.37 L423.30,157.40 L424.30,157.42 L425.30,157.45 L426.30,157.47 L427.30,157.49 L428.30,157.52 L429.30,157.54 L430.30,157.56 L431.30,157.58 L432.30,157.60 L433.30,157.62 L434.30,157.63 L435.30,157.65 L436.30,157.67 L437.30,157.69 L438.30,157.70 L439.30,157.72 L440.30,157.74 L441.30,157.75 L442.30,157.77 L443.30,157.78 L444.30,157.79 L445.30,157.81 L446.30,157.82 L447.30,157.83 L448.30,157.85 L449.30,157.86 L450.30,157.87 L451.30,157.88 L452.30,157.89 L453.30,157.90 L454.30,157.91 L455.30,157.92 L456.30,157.93 L457.30,157.94 L458.30,157.95 L459.30,157.96 L460.30,157.97 L461.30,157.98 L462.30,157.99 L463.30,158.00 L464.30,158.00 L465.30,158.01 L466.30,158.02 L467.30,158.03 L468.30,158.03 L469.30,158.04 L470.30,158.05 L471.30,158.05 L472.30,158.06 L473.30,158.07 L474.30,158.07 L475.30,158.08 L476.30,158.08 L477.30,158.09 L478.30,158.10 L479.30,158.10 L480.30,158.11 L481.30,158.11 L482.30,158.12 L483.30,158.12 L484.30,158.13 L485.30,158.13 L486.30,158.13 L487.30,158.14 L488.30,158.14 L489.30,158.15 L490.30,158.15 L491.30,158.16 L492.30,158.16 L493.30,158.16 L494.30,158.17 L495.30,158.17 L496.30,158.17 L497.30,158.18 L498.30,158.18 L499.30,158.18 L500.30,158.19 L501.30,158.19 L502.30,158.19 L503.30,158.19 L504.30,158.20 L505.30,158.20 L506.30,158.20 L507.30,158.21 L508.30,158.21 L509.30,158.21 L510.30,158.21 L511.30,158.21 L512.30,158.22 L513.30,158.22 L514.30,158.22 L515.30,158.22 L516.30,158.23 L517.30,158.23 L518.30,158.23 L518.50,158.23" fill="none" stroke="#c8323c" stroke-width="1.8" stroke-linecap="round" stroke-linejoin="round"/>
<path d="M339.30,83.10 L339.40,83.63 L339.50,84.16 L339.60,84.68 L339.70,85.20 L339.80,85.72 L339.90,86.23 L340.00,86.73 L340.10,87.24 L340.20,87.74 L340.30,88.23 L340.40,88.72 L340.50,89.21 L340.60,89.70 L340.70,90.18 L340.80,90.65 L340.90,91.13 L341.00,91.60 L341.10,92.06 L341.20,92.53 L341.30,92.98 L341.40,93.44 L341.50,93.89 L341.60,94.34 L341.70,94.79 L341.80,95.23 L341.90,95.67 L342.00,96.10 L342.10,96.53 L342.20,96.96 L342.30,97.39 L342.40,97.81 L342.50,98.23 L342.60,98.64 L342.70,99.06 L342.80,99.47 L342.90,99.87 L343.00,100.28 L343.10,100.68 L343.20,101.07 L343.30,101.47 L343.40,101.86 L343.50,102.25 L343.60,102.63 L343.70,103.02 L343.80,103.39 L343.90,103.77 L344.00,104.15 L344.10,104.52 L344.20,104.88 L344.30,105.25 L344.40,105.61 L344.50,105.97 L344.60,106.33 L344.70,106.68 L344.80,107.04 L344.90,107.38 L345.00,107.73 L345.10,108.08 L345.20,108.42 L345.30,108.76 L345.40,109.09 L345.50,109.43 L345.60,109.76 L345.70,110.08 L345.80,110.41 L345.90,110.73 L346.00,111.06 L346.10,111.38 L346.20,111.69 L346.30,112.01 L346.40,112.32 L346.50,112.63 L346.60,112.93 L346.70,113.24 L346.80,113.54 L346.90,113.84 L347.00,114.14 L347.10,114.43 L347.20,114.73 L347.30,115.02 L347.40,115.31 L347.50,115.60 L347.60,115.88 L347.70,116.16 L347.80,116.44 L347.90,116.72 L348.00,117.00 L348.10,117.27 L348.20,117.54 L348.30,117.82 L348.40,118.08 L348.50,118.35 L348.60,118.61 L348.70,118.88 L348.80,119.14 L348.90,119.39 L349.00,119.65 L349.10,119.91 L349.20,120.16 L349.30,120.41 L349.40,120.66 L349.50,120.90 L349.60,121.15 L349.70,121.39 L349.80,121.63 L349.90,121.87 L350.00,122.11 L350.10,122.35 L350.20,122.58 L350.30,122.81 L350.40,123.05 L350.50,123.27 L350.60,123.50 L350.70,123.73 L350.80,123.95 L350.90,124.17 L351.00,124.40 L351.10,124.61 L351.20,124.83 L351.30,125.05 L351.40,125.26 L351.50,125.48 L351.60,125.69 L351.70,125.90 L351.80,126.10 L351.90,126.31 L352.00,126.52 L352.10,126.72 L352.20,126.92 L352.30,127.12 L352.40,127.32 L352.50,127.52 L352.60,127.71 L352.70,127.91 L352.80,128.10 L352.90,128.29 L353.00,128.48 L353.10,128.67 L353.20,128.86 L353.30,129.05 L353.40,129.23 L353.50,129.41 L353.60,129.60 L353.70,129.78 L353.80,129.96 L353.90,130.14 L354.00,130.31 L354.10,130.49 L354.20,130.66 L354.30,130.83 L354.40,131.01 L354.50,131.18 L354.60,131.35 L354.70,131.51 L354.80,131.68 L354.90,131.85 L355.00,132.01 L355.10,132.17 L355.20,132.34 L355.30,132.50 L355.40,132.66 L355.50,132.81 L355.60,132.97 L355.70,133.13 L355.80,133.28 L355.90,133.44 L356.00,133.59 L356.10,133.74 L356.20,133.89 L356.30,134.04 L356.40,134.19 L356.50,134.34 L356.60,134.48 L356.70,134.63 L356.80,134.77 L356.90,134.91 L357.00,135.06 L357.10,135.20 L357.20,135.34 L357.30,135.48 L357.40,135.61 L357.50,135.75 L357.60,135.89 L357.70,136.02 L357.80,136.15 L357.90,136.29 L358.00,136.42 L358.10,136.55 L358.20,136.68 L358.30,136.81 L358.40,136.94 L358.50,137.07 L358.60,137.19 L358.70,137.32 L358.80,137.44 L358.90,137.57 L359.00,137.69 L359.10,137.81 L359.20,137.93 L359.30,138.05 L360.30,139.21 L361.30,140.28 L362.30,141.28 L363.30,142.22 L364.30,143.09 L365.30,143.90 L366.30,144.65 L367.30,145.36 L368.30,146.02 L369.30,146.64 L370.30,147.21 L371.30,147.75 L372.30,148.25 L373.30,148.72 L374.30,149.17 L375.30,149.58 L376.30,149.97 L377.30,150.33 L378.30,150.68 L379.30,151.00 L380.30,151.30 L381.30,151.59 L382.30,151.85 L383.30,152.11 L384.30,152.35 L385.30,152.57 L386.30,152.78 L387.30,152.99 L388.30,153.18 L389.30,153.36 L390.30,153.53 L391.30,153.69 L392.30,153.84 L393.30,153.99 L394.30,154.13 L395.30,154.26 L396.30,154.39 L397.30,154.51 L398.30,154.62 L399.30,154.73 L400.30,154.84 L401.30,154.94 L402.30,155.04 L403.30,155.13 L404.30,155.22 L405.30,155.30 L406.30,155.38 L407.30,155.46 L408.30,155.54 L409.30,155.61 L410.30,155.68 L411.30,155.75 L412.30,155.81 L413.30,155.87 L414.30,155.93 L415.30,155.99 L416.30,156.05 L417.30,156.10 L418.30,156.16 L419.30,156.21 L420.30,156.26 L421.30,156.31 L422.30,156.35 L423.30,156.40 L424.30,156.44 L425.30,156.48 L426.30,156.53 L427.30,156.57 L428.30,156.61 L429.30,156.64 L430.30,156.68 L431.30,156.72 L432.30,156.75 L433.30,156.79 L434.30,156.82 L435.30,156.85 L436.30,156.88 L437.30,156.92 L438.30,156.95 L439.30,156.97 L440.30,157.00 L441.30,157.03 L442.30,157.06 L443.30,157.09 L444.30,157.11 L445.30,157.14 L446.30,157.16 L447.30,157.19 L448.30,157.21 L449.30,157.23 L450.30,157.26 L451.30,157.28 L452.30,157.30 L453.30,157.32 L454.30,157.34 L455.30,157.36 L456.30,157.38 L457.30,157.40 L458.30,157.42 L459.30,157.44 L460.30,157.46 L461.30,157.47 L462.30,157.49 L463.30,157.51 L464.30,157.52 L465.30,157.54 L466.30,157.56 L467.30,157.57 L468.30,157.59 L469.30,157.60 L470.30,157.62 L471.30,157.63 L472.30,157.65 L473.30,157.66 L474.30,157.67 L475.30,157.69 L476.30,157.70 L477.30,157.71 L478.30,157.72 L479.30,157.73 L480.30,157.75 L481.30,157.76 L482.30,157.77 L483.30,157.78 L484.30,157.79 L485.30,157.80 L486.30,157.81 L487.30,157.82 L488.30,157.83 L489.30,157.84 L490.30,157.85 L491.30,157.86 L492.30,157.87 L493.30,157.88 L494.30,157.89 L495.30,157.90 L496.30,157.90 L497.30,157.91 L498.30,157.92 L499.30,157.93 L500.30,157.94 L501.30,157.94 L502.30,157.95 L503.30,157.96 L504.30,157.97 L505.30,157.97 L506.30,157.98 L507.30,157.99 L508.30,157.99 L509.30,158.00 L510.30,158.00 L511.30,158.01 L512.30,158.02 L513.30,158.02 L514.30,158.03 L515.30,158.03 L516.30,158.04 L517.30,158.04 L518.30,158.05 L518.50,158.05" fill="none" stroke="#f4f03a" stroke-width="1.8" stroke-linecap="round" stroke-linejoin="round"/>
<path d="M339.30,56.36 L339.40,57.08 L339.50,57.80 L339.60,58.51 L339.70,59.21 L339.80,59.91 L339.90,60.60 L340.00,61.29 L340.10,61.97 L340.20,62.65 L340.30,63.32 L340.40,63.98 L340.50,64.64 L340.60,65.30 L340.70,65.95 L340.80,66.59 L340.90,67.23 L341.00,67.87 L341.10,68.49 L341.20,69.12 L341.30,69.74 L341.40,70.35 L341.50,70.96 L341.60,71.56 L341.70,72.16 L341.80,72.76 L341.90,73.34 L342.00,73.93 L342.10,74.51 L342.20,75.08 L342.30,75.66 L342.40,76.22 L342.50,76.78 L342.60,77.34 L342.70,77.89 L342.80,78.44 L342.90,78.99 L343.00,79.52 L343.10,80.06 L343.20,80.59 L343.30,81.12 L343.40,81.64 L343.50,82.16 L343.60,82.67 L343.70,83.18 L343.80,83.69 L343.90,84.19 L344.00,84.69 L344.10,85.18 L344.20,85.67 L344.30,86.16 L344.40,86.64 L344.50,87.12 L344.60,87.60 L344.70,88.07 L344.80,88.54 L344.90,89.00 L345.00,89.46 L345.10,89.92 L345.20,90.37 L345.30,90.82 L345.40,91.26 L345.50,91.71 L345.60,92.15 L345.70,92.58 L345.80,93.01 L345.90,93.44 L346.00,93.87 L346.10,94.29 L346.20,94.71 L346.30,95.12 L346.40,95.53 L346.50,95.94 L346.60,96.35 L346.70,96.75 L346.80,97.15 L346.90,97.55 L347.00,97.94 L347.10,98.33 L347.20,98.72 L347.30,99.10 L347.40,99.48 L347.50,99.86 L347.60,100.24 L347.70,100.61 L347.80,100.98 L347.90,101.34 L348.00,101.71 L348.10,102.07 L348.20,102.43 L348.30,102.78 L348.40,103.13 L348.50,103.48 L348.60,103.83 L348.70,104.18 L348.80,104.52 L348.90,104.86 L349.00,105.19 L349.10,105.53 L349.20,105.86 L349.30,106.19 L349.40,106.51 L349.50,106.84 L349.60,107.16 L349.70,107.48 L349.80,107.79 L349.90,108.11 L350.00,108.42 L350.10,108.73 L350.20,109.04 L350.30,109.34 L350.40,109.64 L350.50,109.94 L350.60,110.24 L350.70,110.54 L350.80,110.83 L350.90,111.12 L351.00,111.41 L351.10,111.70 L351.20,111.98 L351.30,112.26 L351.40,112.54 L351.50,112.82 L351.60,113.10 L351.70,113.37 L351.80,113.64 L351.90,113.91 L352.00,114.18 L352.10,114.45 L352.20,114.71 L352.30,114.97 L352.40,115.23 L352.50,115.49 L352.60,115.74 L352.70,116.00 L352.80,116.25 L352.90,116.50 L353.00,116.75 L353.10,117.00 L353.20,117.24 L353.30,117.48 L353.40,117.72 L353.50,117.96 L353.60,118.20 L353.70,118.44 L353.80,118.67 L353.90,118.90 L354.00,119.13 L354.10,119.36 L354.20,119.59 L354.30,119.82 L354.40,120.04 L354.50,120.26 L354.60,120.48 L354.70,120.70 L354.80,120.92 L354.90,121.13 L355.00,121.35 L355.10,121.56 L355.20,121.77 L355.30,121.98 L355.40,122.19 L355.50,122.40 L355.60,122.60 L355.70,122.80 L355.80,123.01 L355.90,123.21 L356.00,123.41 L356.10,123.60 L356.20,123.80 L356.30,123.99 L356.40,124.19 L356.50,124.38 L356.60,124.57 L356.70,124.76 L356.80,124.95 L356.90,125.13 L357.00,125.32 L357.10,125.50 L357.20,125.68 L357.30,125.87 L357.40,126.05 L357.50,126.22 L357.60,126.40 L357.70,126.58 L357.80,126.75 L357.90,126.93 L358.00,127.10 L358.10,127.27 L358.20,127.44 L358.30,127.61 L358.40,127.77 L358.50,127.94 L358.60,128.11 L358.70,128.27 L358.80,128.43 L358.90,128.59 L359.00,128.76 L359.10,128.91 L359.20,129.07 L359.30,129.23 L360.30,130.74 L361.30,132.15 L362.30,133.47 L363.30,134.70 L364.30,135.85 L365.30,136.93 L366.30,137.93 L367.30,138.88 L368.30,139.77 L369.30,140.60 L370.30,141.38 L371.30,142.12 L372.30,142.81 L373.30,143.46 L374.30,144.08 L375.30,144.66 L376.30,145.21 L377.30,145.73 L378.30,146.22 L379.30,146.69 L380.30,147.13 L381.30,147.55 L382.30,147.95 L383.30,148.33 L384.30,148.69 L385.30,149.03 L386.30,149.36 L387.30,149.67 L388.30,149.97 L389.30,150.26 L390.30,150.53 L391.30,150.79 L392.30,151.04 L393.30,151.28 L394.30,151.51 L395.30,151.73 L396.30,151.94 L397.30,152.14 L398.30,152.34 L399.30,152.53 L400.30,152.71 L401.30,152.88 L402.30,153.05 L403.30,153.21 L404.30,153.37 L405.30,153.51 L406.30,153.66 L407.30,153.80 L408.30,153.93 L409.30,154.06 L410.30,154.19 L411.30,154.31 L412.30,154.43 L413.30,154.54 L414.30,154.65 L415.30,154.76 L416.30,154.86 L417.30,154.96 L418.30,155.06 L419.30,155.15 L420.30,155.24 L421.30,155.33 L422.30,155.42 L423.30,155.50 L424.30,155.58 L425.30,155.66 L426.30,155.73 L427.30,155.80 L428.30,155.87 L429.30,155.94 L430.30,156.01 L431.30,156.07 L432.30,156.14 L433.30,156.20 L434.30,156.26 L435.30,156.32 L436.30,156.37 L437.30,156.43 L438.30,156.48 L439.30,156.53 L440.30,156.58 L441.30,156.63 L442.30,156.67 L443.30,156.72 L444.30,156.76 L445.30,156.81 L446.30,156.85 L447.30,156.89 L448.30,156.93 L449.30,156.97 L450.30,157.00 L451.30,157.04 L452.30,157.07 L453.30,157.11 L454.30,157.14 L455.30,157.17 L456.30,157.21 L457.30,157.24 L458.30,157.27 L459.30,157.29 L460.30,157.32 L461.30,157.35 L462.30,157.38 L463.30,157.40 L464.30,157.43 L465.30,157.45 L466.30,157.47 L467.30,157.50 L468.30,157.52 L469.30,157.54 L470.30,157.56 L471.30,157.58 L472.30,157.60 L473.30,157.62 L474.30,157.64 L475.30,157.66 L476.30,157.68 L477.30,157.69 L478.30,157.71 L479.30,157.73 L480.30,157.74 L481.30,157.76 L482.30,157.77 L483.30,157.79 L484.30,157.80 L485.30,157.82 L486.30,157.83 L487.30,157.84 L488.30,157.85 L489.30,157.87 L490.30,157.88 L491.30,157.89 L492.30,157.90 L493.30,157.91 L494.30,157.92 L495.30,157.93 L496.30,157.94 L497.30,157.95 L498.30,157.96 L499.30,157.97 L500.30,157.98 L501.30,157.99 L502.30,158.00 L503.30,158.01 L504.30,158.02 L505.30,158.02 L506.30,158.03 L507.30,158.04 L508.30,158.05 L509.30,158.05 L510.30,158.06 L511.30,158.07 L512.30,158.07 L513.30,158.08 L514.30,158.09 L515.30,158.09 L516.30,158.10 L517.30,158.10 L518.30,158.11 L518.50,158.11" fill="none" stroke="#2f9e62" stroke-width="1.8" stroke-linecap="round" stroke-linejoin="round"/>
<path d="M339.30,34.17 L339.40,34.96 L339.50,35.74 L339.60,36.51 L339.70,37.27 L339.80,38.03 L339.90,38.79 L340.00,39.53 L340.10,40.27 L340.20,41.01 L340.30,41.73 L340.40,42.46 L340.50,43.17 L340.60,43.88 L340.70,44.58 L340.80,45.28 L340.90,45.97 L341.00,46.66 L341.10,47.34 L341.20,48.02 L341.30,48.68 L341.40,49.35 L341.50,50.01 L341.60,50.66 L341.70,51.31 L341.80,51.95 L341.90,52.59 L342.00,53.22 L342.10,53.85 L342.20,54.47 L342.30,55.09 L342.40,55.70 L342.50,56.30 L342.60,56.91 L342.70,57.50 L342.80,58.10 L342.90,58.68 L343.00,59.27 L343.10,59.85 L343.20,60.42 L343.30,60.99 L343.40,61.56 L343.50,62.12 L343.60,62.67 L343.70,63.23 L343.80,63.77 L343.90,64.32 L344.00,64.86 L344.10,65.39 L344.20,65.92 L344.30,66.45 L344.40,66.97 L344.50,67.49 L344.60,68.01 L344.70,68.52 L344.80,69.03 L344.90,69.53 L345.00,70.03 L345.10,70.53 L345.20,71.02 L345.30,71.51 L345.40,71.99 L345.50,72.48 L345.60,72.95 L345.70,73.43 L345.80,73.90 L345.90,74.37 L346.00,74.83 L346.10,75.29 L346.20,75.75 L346.30,76.20 L346.40,76.65 L346.50,77.10 L346.60,77.55 L346.70,77.99 L346.80,78.42 L346.90,78.86 L347.00,79.29 L347.10,79.72 L347.20,80.15 L347.30,80.57 L347.40,80.99 L347.50,81.40 L347.60,81.82 L347.70,82.23 L347.80,82.64 L347.90,83.04 L348.00,83.44 L348.10,83.84 L348.20,84.24 L348.30,84.63 L348.40,85.03 L348.50,85.41 L348.60,85.80 L348.70,86.18 L348.80,86.56 L348.90,86.94 L349.00,87.32 L349.10,87.69 L349.20,88.06 L349.30,88.43 L349.40,88.79 L349.50,89.16 L349.60,89.52 L349.70,89.88 L349.80,90.23 L349.90,90.59 L350.00,90.94 L350.10,91.29 L350.20,91.63 L350.30,91.98 L350.40,92.32 L350.50,92.66 L350.60,92.99 L350.70,93.33 L350.80,93.66 L350.90,93.99 L351.00,94.32 L351.10,94.65 L351.20,94.97 L351.30,95.30 L351.40,95.62 L351.50,95.94 L351.60,96.25 L351.70,96.57 L351.80,96.88 L351.90,97.19 L352.00,97.50 L352.10,97.80 L352.20,98.11 L352.30,98.41 L352.40,98.71 L352.50,99.01 L352.60,99.31 L352.70,99.60 L352.80,99.90 L352.90,100.19 L353.00,100.48 L353.10,100.76 L353.20,101.05 L353.30,101.33 L353.40,101.62 L353.50,101.90 L353.60,102.18 L353.70,102.45 L353.80,102.73 L353.90,103.00 L354.00,103.28 L354.10,103.55 L354.20,103.82 L354.30,104.08 L354.40,104.35 L354.50,104.61 L354.60,104.88 L354.70,105.14 L354.80,105.40 L354.90,105.66 L355.00,105.91 L355.10,106.17 L355.20,106.42 L355.30,106.67 L355.40,106.92 L355.50,107.17 L355.60,107.42 L355.70,107.67 L355.80,107.91 L355.90,108.15 L356.00,108.40 L356.10,108.64 L356.20,108.88 L356.30,109.11 L356.40,109.35 L356.50,109.58 L356.60,109.82 L356.70,110.05 L356.80,110.28 L356.90,110.51 L357.00,110.74 L357.10,110.97 L357.20,111.19 L357.30,111.42 L357.40,111.64 L357.50,111.86 L357.60,112.08 L357.70,112.30 L357.80,112.52 L357.90,112.74 L358.00,112.95 L358.10,113.17 L358.20,113.38 L358.30,113.59 L358.40,113.81 L358.50,114.02 L358.60,114.22 L358.70,114.43 L358.80,114.64 L358.90,114.84 L359.00,115.05 L359.10,115.25 L359.20,115.45 L359.30,115.65 L360.30,117.60 L361.30,119.45 L362.30,121.20 L363.30,122.87 L364.30,124.45 L365.30,125.95 L366.30,127.38 L367.30,128.74 L368.30,130.03 L369.30,131.26 L370.30,132.44 L371.30,133.56 L372.30,134.63 L373.30,135.65 L374.30,136.63 L375.30,137.56 L376.30,138.44 L377.30,139.29 L378.30,140.10 L379.30,140.88 L380.30,141.62 L381.30,142.33 L382.30,143.01 L383.30,143.66 L384.30,144.28 L385.30,144.87 L386.30,145.44 L387.30,145.98 L388.30,146.50 L389.30,147.00 L390.30,147.48 L391.30,147.93 L392.30,148.37 L393.30,148.79 L394.30,149.19 L395.30,149.57 L396.30,149.94 L397.30,150.29 L398.30,150.63 L399.30,150.95 L400.30,151.26 L401.30,151.56 L402.30,151.84 L403.30,152.11 L404.30,152.37 L405.30,152.62 L406.30,152.86 L407.30,153.09 L408.30,153.30 L409.30,153.51 L410.30,153.72 L411.30,153.91 L412.30,154.09 L413.30,154.27 L414.30,154.44 L415.30,154.60 L416.30,154.75 L417.30,154.90 L418.30,155.05 L419.30,155.18 L420.30,155.31 L421.30,155.44 L422.30,155.56 L423.30,155.67 L424.30,155.78 L425.30,155.89 L426.30,155.99 L427.30,156.09 L428.30,156.18 L429.30,156.27 L430.30,156.35 L431.30,156.44 L432.30,156.51 L433.30,156.59 L434.30,156.66 L435.30,156.73 L436.30,156.79 L437.30,156.86 L438.30,156.92 L439.30,156.98 L440.30,157.03 L441.30,157.09 L442.30,157.14 L443.30,157.18 L444.30,157.23 L445.30,157.28 L446.30,157.32 L447.30,157.36 L448.30,157.40 L449.30,157.44 L450.30,157.47 L451.30,157.51 L452.30,157.54 L453.30,157.57 L454.30,157.60 L455.30,157.63 L456.30,157.66 L457.30,157.69 L458.30,157.71 L459.30,157.74 L460.30,157.76 L461.30,157.78 L462.30,157.81 L463.30,157.83 L464.30,157.85 L465.30,157.87 L466.30,157.88 L467.30,157.90 L468.30,157.92 L469.30,157.93 L470.30,157.95 L471.30,157.96 L472.30,157.98 L473.30,157.99 L474.30,158.00 L475.30,158.02 L476.30,158.03 L477.30,158.04 L478.30,158.05 L479.30,158.06 L480.30,158.07 L481.30,158.08 L482.30,158.09 L483.30,158.10 L484.30,158.11 L485.30,158.12 L486.30,158.12 L487.30,158.13 L488.30,158.14 L489.30,158.14 L490.30,158.15 L491.30,158.16 L492.30,158.16 L493.30,158.17 L494.30,158.17 L495.30,158.18 L496.30,158.18 L497.30,158.19 L498.30,158.19 L499.30,158.20 L500.30,158.20 L501.30,158.21 L502.30,158.21 L503.30,158.21 L504.30,158.22 L505.30,158.22 L506.30,158.22 L507.30,158.23 L508.30,158.23 L509.30,158.23 L510.30,158.24 L511.30,158.24 L512.30,158.24 L513.30,158.24 L514.30,158.25 L515.30,158.25 L516.30,158.25 L517.30,158.25 L518.30,158.26 L518.50,158.26" fill="none" stroke="#7545a0" stroke-width="1.8" stroke-linecap="round" stroke-linejoin="round"/>

<path d="M221.4,210.4 V353.5 H369.9" fill="none" stroke="#c8c8c8" stroke-width="1.2"/>
<path d="M217.4,353.5 H221.4" stroke="#c8c8c8" stroke-width="1.2"/>
<path d="M217.4,333.1 H221.4" stroke="#c8c8c8" stroke-width="1.2"/>
<path d="M217.4,312.8 H221.4" stroke="#c8c8c8" stroke-width="1.2"/>
<path d="M217.4,292.4 H221.4" stroke="#c8c8c8" stroke-width="1.2"/>
<path d="M217.4,272.0 H221.4" stroke="#c8c8c8" stroke-width="1.2"/>
<path d="M217.4,251.6 H221.4" stroke="#c8c8c8" stroke-width="1.2"/>
<path d="M217.4,231.3 H221.4" stroke="#c8c8c8" stroke-width="1.2"/>
<path d="M217.4,210.9 H221.4" stroke="#c8c8c8" stroke-width="1.2"/>
<path d="M221.4,353.5 V357.5" stroke="#c8c8c8" stroke-width="1.2"/>
<path d="M295.4,353.5 V357.5" stroke="#c8c8c8" stroke-width="1.2"/>
<path d="M369.4,353.5 V357.5" stroke="#c8c8c8" stroke-width="1.2"/>
<path d="M225.34,353.61 L225.57,353.05 L225.81,352.48 L226.05,351.92 L226.29,351.35 L226.53,350.79 L226.78,350.23 L227.02,349.67 L227.27,349.11 L227.51,348.55 L227.76,347.99 L228.01,347.43 L228.26,346.87 L228.51,346.31 L228.76,345.75 L229.01,345.19 L229.27,344.64 L229.52,344.08 L229.78,343.53 L230.04,342.97 L230.29,342.42 L230.55,341.87 L230.81,341.31 L231.07,340.76 L231.34,340.21 L231.60,339.66 L231.86,339.11 L232.13,338.56 L232.40,338.01 L232.66,337.46 L232.93,336.91 L233.20,336.36 L233.47,335.81 L233.74,335.27 L234.01,334.72 L234.29,334.18 L234.56,333.63 L234.84,333.09 L235.11,332.54 L235.39,332.00 L235.67,331.45 L235.95,330.91 L236.23,330.37 L236.51,329.83 L236.79,329.29 L237.07,328.75 L237.36,328.21 L237.64,327.67 L237.93,327.13 L238.21,326.59 L238.50,326.05 L238.79,325.52 L239.08,324.98 L239.37,324.44 L239.66,323.91 L239.95,323.37 L240.25,322.84 L240.54,322.31 L240.84,321.77 L241.13,321.24 L241.43,320.71 L241.72,320.17 L242.02,319.64 L242.32,319.11 L242.62,318.58 L242.92,318.05 L243.23,317.52 L243.53,316.99 L243.83,316.46 L244.14,315.94 L244.44,315.41 L244.75,314.88 L245.05,314.35 L245.36,313.83 L245.67,313.30 L245.98,312.78 L246.29,312.25 L246.60,311.73 L246.91,311.21 L247.22,310.68 L247.54,310.16 L247.85,309.64 L248.17,309.12 L248.48,308.59 L248.80,308.07 L249.12,307.55 L249.44,307.03 L249.75,306.51 L250.07,305.99 L250.39,305.48 L250.72,304.96 L251.04,304.44 L251.36,303.92 L251.68,303.41 L252.01,302.89 L252.33,302.37 L252.66,301.86 L252.98,301.34 L253.31,300.83 L253.64,300.31 L253.97,299.80 L254.30,299.29 L254.63,298.77 L254.96,298.26 L255.29,297.75 L255.62,297.24 L255.95,296.73 L256.29,296.22 L256.62,295.71 L256.96,295.20 L257.29,294.69 L257.63,294.18 L257.97,293.67 L258.30,293.16 L258.64,292.65 L258.98,292.15 L259.32,291.64 L259.66,291.13 L260.00,290.63 L260.34,290.12 L260.69,289.62 L261.03,289.11 L261.37,288.61 L261.72,288.10 L262.06,287.60 L262.41,287.10 L262.75,286.59 L263.10,286.09 L263.45,285.59 L263.79,285.09 L264.14,284.59 L264.49,284.09 L264.84,283.59 L265.19,283.09 L265.54,282.59 L265.89,282.09 L266.24,281.59 L266.60,281.09 L266.95,280.59 L267.30,280.09 L267.66,279.60 L268.01,279.10 L268.37,278.60 L268.72,278.10 L269.08,277.61 L269.44,277.11 L269.79,276.62 L270.15,276.12 L270.51,275.63 L270.87,275.13 L271.23,274.64 L271.59,274.15 L271.95,273.65 L272.31,273.16 L272.67,272.67 L273.04,272.18 L273.40,271.68 L273.76,271.19 L274.12,270.70 L274.49,270.21 L274.85,269.72 L275.22,269.23 L275.58,268.74 L275.95,268.25 L276.32,267.76 L276.68,267.27 L277.05,266.78 L277.42,266.30 L277.79,265.81 L278.16,265.32 L278.52,264.83 L278.89,264.35 L279.26,263.86 L279.63,263.37 L280.01,262.89 L280.38,262.40 L280.75,261.92 L281.12,261.43 L281.49,260.95 L281.87,260.46 L282.24,259.98 L282.61,259.50 L282.99,259.01 L283.36,258.53 L283.74,258.05 L284.11,257.56 L284.49,257.08 L284.86,256.60 L285.24,256.12 L285.62,255.64 L285.99,255.16 L286.37,254.68 L286.75,254.19 L287.13,253.71 L287.51,253.23 L287.88,252.76 L288.26,252.28 L288.64,251.80 L289.02,251.32 L289.40,250.84 L289.78,250.36 L290.16,249.88 L290.54,249.40 L290.93,248.93 L291.31,248.45 L291.69,247.97 L292.07,247.50 L292.45,247.02 L292.84,246.54 L293.22,246.07 L293.60,245.59 L293.99,245.12 L294.37,244.64 L294.76,244.17 L295.14,243.69 L295.53,243.22 L295.91,242.74 L296.30,242.27 L296.68,241.80 L297.07,241.32 L297.45,240.85 L297.84,240.38 L298.23,239.90 L298.61,239.43 L299.00,238.96 L299.39,238.49 L299.77,238.01 L300.16,237.54 L300.55,237.07 L300.94,236.60 L301.32,236.13 L301.71,235.66 L302.10,235.19 L302.49,234.72 L302.88,234.25 L303.27,233.78 L303.66,233.31 L304.05,232.84 L304.44,232.37 L304.83,231.90" fill="none" stroke="#7545a0" stroke-width="1.8" stroke-linecap="round" stroke-linejoin="round"/>
<path d="M223.51,353.59 L223.70,353.11 L223.90,352.62 L224.10,352.14 L224.30,351.66 L224.50,351.17 L224.69,350.69 L224.90,350.21 L225.10,349.73 L225.30,349.25 L225.50,348.77 L225.70,348.29 L225.91,347.81 L226.11,347.33 L226.32,346.85 L226.53,346.37 L226.73,345.89 L226.94,345.41 L227.15,344.94 L227.36,344.46 L227.57,343.98 L227.78,343.50 L227.99,343.03 L228.20,342.55 L228.42,342.08 L228.63,341.60 L228.85,341.13 L229.06,340.65 L229.28,340.18 L229.49,339.71 L229.71,339.23 L229.93,338.76 L230.15,338.29 L230.37,337.82 L230.59,337.34 L230.81,336.87 L231.03,336.40 L231.26,335.93 L231.48,335.46 L231.70,334.99 L231.93,334.52 L232.16,334.05 L232.38,333.59 L232.61,333.12 L232.84,332.65 L233.07,332.18 L233.30,331.72 L233.53,331.25 L233.76,330.78 L233.99,330.32 L234.22,329.85 L234.45,329.39 L234.69,328.92 L234.92,328.46 L235.16,328.00 L235.40,327.53 L235.63,327.07 L235.87,326.61 L236.11,326.15 L236.35,325.69 L236.59,325.22 L236.83,324.76 L237.07,324.30 L237.31,323.84 L237.55,323.39 L237.80,322.93 L238.04,322.47 L238.29,322.01 L238.53,321.55 L238.78,321.09 L239.03,320.64 L239.28,320.18 L239.52,319.73 L239.77,319.27 L240.02,318.82 L240.28,318.36 L240.53,317.91 L240.78,317.45 L241.03,317.00 L241.29,316.55 L241.54,316.09 L241.80,315.64 L242.05,315.19 L242.31,314.74 L242.57,314.29 L242.83,313.84 L243.09,313.39 L243.35,312.94 L243.61,312.49 L243.87,312.04 L244.13,311.59 L244.39,311.15 L244.66,310.70 L244.92,310.25 L245.19,309.81 L245.45,309.36 L245.72,308.92 L245.98,308.47 L246.25,308.03 L246.52,307.58 L246.79,307.14 L247.06,306.70 L247.33,306.25 L247.60,305.81 L247.88,305.37 L248.15,304.93 L248.42,304.49 L248.70,304.05 L248.97,303.61 L249.25,303.17 L249.53,302.73 L249.80,302.29 L250.08,301.86 L250.36,301.42 L250.64,300.98 L250.92,300.54 L251.20,300.11 L251.48,299.67 L251.77,299.24 L252.05,298.80 L252.33,298.37 L252.62,297.94 L252.90,297.50 L253.19,297.07 L253.48,296.64 L253.76,296.21 L254.05,295.78 L254.34,295.34 L254.63,294.91 L254.92,294.49 L255.21,294.06 L255.51,293.63 L255.80,293.20 L256.09,292.77 L256.39,292.34 L256.68,291.92 L256.98,291.49 L257.27,291.07 L257.57,290.64 L257.87,290.22 L258.17,289.79 L258.47,289.37 L258.77,288.94 L259.07,288.52 L259.37,288.10 L259.67,287.68 L259.97,287.26 L260.28,286.84 L260.58,286.41 L260.89,286.00 L261.19,285.58 L261.50,285.16 L261.81,284.74 L262.11,284.32 L262.42,283.90 L262.73,283.49 L263.04,283.07 L263.35,282.66 L263.67,282.24 L263.98,281.83 L264.29,281.41 L264.60,281.00 L264.92,280.59 L265.23,280.17 L265.55,279.76 L265.87,279.35 L266.18,278.94 L266.50,278.53 L266.82,278.12 L267.14,277.71 L267.46,277.30 L267.78,276.89 L268.10,276.48 L268.43,276.08 L268.75,275.67 L269.07,275.26 L269.40,274.86 L269.72,274.45 L270.05,274.05 L270.38,273.64 L270.70,273.24 L271.03,272.84 L271.36,272.44 L271.69,272.03 L272.02,271.63 L272.35,271.23 L272.68,270.83 L273.02,270.43 L273.35,270.03 L273.68,269.63 L274.02,269.24 L274.35,268.84 L274.69,268.44 L275.03,268.04 L275.36,267.65 L275.70,267.25 L276.04,266.86 L276.38,266.46 L276.72,266.07 L277.06,265.68 L277.40,265.28 L277.75,264.89 L278.09,264.50 L278.43,264.11 L278.78,263.72 L279.12,263.33 L279.47,262.94 L279.82,262.55 L280.16,262.16 L280.51,261.78 L280.86,261.39 L281.21,261.00 L281.56,260.62 L281.91,260.23 L282.26,259.85 L282.62,259.46 L282.97,259.08 L283.32,258.70 L283.68,258.32 L284.03,257.93 L284.39,257.55 L284.74,257.17 L285.10,256.79 L285.46,256.41 L285.82,256.03 L286.18,255.66 L286.54,255.28 L286.90,254.90 L287.26,254.52 L287.62,254.15 L287.99,253.77 L288.35,253.40 L288.72,253.02 L289.08,252.65 L289.45,252.28 L289.81,251.91 L290.18,251.53 L290.55,251.16 L290.92,250.79 L291.29,250.42" fill="none" stroke="#f4f03a" stroke-width="2.8" stroke-linecap="round" stroke-linejoin="round"/>
<path d="M222.70,353.49 L222.87,353.13 L223.04,352.77 L223.21,352.41 L223.37,352.06 L223.54,351.70 L223.71,351.34 L223.87,350.98 L224.04,350.62 L224.21,350.27 L224.37,349.91 L224.54,349.55 L224.70,349.19 L224.87,348.83 L225.03,348.47 L225.20,348.11 L225.36,347.75 L225.52,347.39 L225.69,347.03 L225.85,346.67 L226.02,346.31 L226.18,345.95 L226.34,345.59 L226.51,345.23 L226.67,344.86 L226.83,344.50 L226.99,344.14 L227.16,343.78 L227.32,343.42 L227.48,343.06 L227.64,342.69 L227.80,342.33 L227.97,341.97 L228.13,341.61 L228.29,341.24 L228.45,340.88 L228.61,340.52 L228.77,340.16 L228.93,339.79 L229.09,339.43 L229.26,339.07 L229.42,338.70 L229.58,338.34 L229.74,337.98 L229.90,337.61 L230.06,337.25 L230.22,336.89 L230.38,336.52 L230.54,336.16 L230.70,335.80 L230.86,335.43 L231.02,335.07 L231.18,334.70 L231.34,334.34 L231.50,333.98 L231.67,333.61 L231.83,333.25 L231.99,332.89 L232.15,332.52 L232.31,332.16 L232.47,331.79 L232.63,331.43 L232.79,331.07 L232.95,330.70 L233.11,330.34 L233.27,329.97 L233.43,329.61 L233.60,329.25 L233.76,328.88 L233.92,328.52 L234.08,328.15 L234.24,327.79 L234.40,327.43 L234.57,327.06 L234.73,326.70 L234.89,326.33 L235.05,325.97 L235.22,325.61 L235.38,325.24 L235.54,324.88 L235.70,324.52 L235.87,324.15 L236.03,323.79 L236.20,323.43 L236.36,323.07 L236.52,322.70 L236.69,322.34 L236.85,321.98 L237.02,321.61 L237.18,321.25 L237.35,320.89 L237.51,320.53 L237.68,320.16 L237.84,319.80 L238.01,319.44 L238.18,319.08 L238.34,318.72 L238.51,318.36 L238.68,317.99 L238.84,317.63 L239.01,317.27 L239.18,316.91 L239.35,316.55 L239.52,316.19 L239.69,315.83 L239.86,315.47 L240.03,315.11 L240.20,314.75 L240.37,314.39 L240.54,314.03 L240.71,313.67 L240.88,313.31 L241.05,312.95 L241.22,312.59 L241.40,312.23 L241.57,311.88 L241.74,311.52 L241.92,311.16 L242.09,310.80 L242.27,310.45 L242.44,310.09 L242.62,309.73 L242.79,309.37 L242.97,309.02 L243.15,308.66 L243.32,308.30 L243.50,307.95 L243.68,307.59 L243.86,307.24 L244.04,306.88 L244.22,306.53 L244.40,306.17 L244.58,305.82 L244.76,305.47 L244.94,305.11 L245.12,304.76 L245.30,304.41 L245.49,304.05 L245.67,303.70 L245.85,303.35 L246.04,303.00 L246.22,302.64 L246.41,302.29 L246.60,301.94 L246.78,301.59 L246.97,301.24 L247.16,300.89 L247.35,300.54 L247.54,300.19 L247.73,299.84 L247.92,299.49 L248.11,299.15 L248.30,298.80 L248.49,298.45 L248.68,298.10 L248.88,297.76 L249.07,297.41 L249.27,297.06 L249.46,296.72 L249.66,296.37 L249.85,296.03 L250.05,295.68 L250.25,295.34 L250.45,295.00 L250.65,294.65 L250.85,294.31 L251.05,293.97 L251.25,293.62 L251.45,293.28 L251.65,292.94 L251.86,292.60 L252.06,292.26 L252.27,291.92 L252.47,291.58 L252.68,291.24 L252.89,290.90 L253.10,290.56 L253.30,290.23 L253.51,289.89 L253.72,289.55 L253.94,289.22 L254.15,288.88 L254.36,288.54 L254.57,288.21 L254.79,287.87 L255.00,287.54 L255.22,287.21 L255.44,286.87 L255.65,286.54 L255.87,286.21 L256.09,285.88 L256.31,285.55 L256.53,285.22 L256.75,284.89 L256.98,284.56 L257.20,284.23 L257.43,283.90 L257.65,283.57 L257.88,283.24 L258.10,282.92 L258.33,282.59 L258.56,282.26 L258.79,281.94 L259.02,281.61 L259.25,281.29 L259.49,280.97 L259.72,280.64 L259.95,280.32 L260.19,280.00 L260.43,279.68 L260.66,279.36 L260.90,279.04 L261.14,278.72 L261.38,278.40 L261.62,278.08 L261.87,277.76 L262.11,277.44 L262.35,277.13 L262.60,276.81 L262.85,276.50 L263.09,276.18 L263.34,275.87 L263.59,275.55 L263.84,275.24 L264.09,274.93 L264.35,274.62 L264.60,274.31 L264.86,274.00 L265.11,273.69 L265.37,273.38 L265.63,273.07 L265.89,272.76 L266.15,272.45 L266.41,272.15 L266.67,271.84 L266.93,271.54 L267.20,271.23 L267.46,270.93 L267.73,270.63 L268.00,270.32" fill="none" stroke="#c8323c" stroke-width="1.8" stroke-linecap="round" stroke-linejoin="round"/>
<path d="M222.74,353.50 L222.88,353.16 L223.01,352.82 L223.15,352.48 L223.28,352.14 L223.42,351.79 L223.56,351.45 L223.69,351.11 L223.83,350.77 L223.97,350.43 L224.10,350.09 L224.24,349.75 L224.38,349.40 L224.52,349.06 L224.66,348.72 L224.79,348.38 L224.93,348.04 L225.07,347.70 L225.21,347.36 L225.35,347.02 L225.49,346.68 L225.63,346.34 L225.77,346.00 L225.91,345.66 L226.05,345.32 L226.20,344.97 L226.34,344.63 L226.48,344.29 L226.62,343.95 L226.76,343.61 L226.91,343.27 L227.05,342.93 L227.19,342.60 L227.34,342.26 L227.48,341.92 L227.62,341.58 L227.77,341.24 L227.91,340.90 L228.06,340.56 L228.20,340.22 L228.35,339.88 L228.50,339.54 L228.64,339.20 L228.79,338.87 L228.94,338.53 L229.08,338.19 L229.23,337.85 L229.38,337.51 L229.53,337.17 L229.67,336.84 L229.82,336.50 L229.97,336.16 L230.12,335.82 L230.27,335.49 L230.42,335.15 L230.57,334.81 L230.72,334.48 L230.88,334.14 L231.03,333.80 L231.18,333.47 L231.33,333.13 L231.48,332.79 L231.64,332.46 L231.79,332.12 L231.94,331.79 L232.10,331.45 L232.25,331.12 L232.41,330.78 L232.56,330.45 L232.72,330.11 L232.87,329.78 L233.03,329.44 L233.19,329.11 L233.34,328.77 L233.50,328.44 L233.66,328.11 L233.81,327.77 L233.97,327.44 L234.13,327.11 L234.29,326.77 L234.45,326.44 L234.61,326.11 L234.77,325.77 L234.93,325.44 L235.09,325.11 L235.25,324.78 L235.42,324.45 L235.58,324.11 L235.74,323.78 L235.90,323.45 L236.07,323.12 L236.23,322.79 L236.40,322.46 L236.56,322.13 L236.72,321.80 L236.89,321.47 L237.06,321.14 L237.22,320.81 L237.39,320.48 L237.56,320.15 L237.72,319.82 L237.89,319.50 L238.06,319.17 L238.23,318.84 L238.40,318.51 L238.57,318.18 L238.74,317.86 L238.91,317.53 L239.08,317.20 L239.25,316.88 L239.42,316.55 L239.59,316.22 L239.77,315.90 L239.94,315.57 L240.11,315.25 L240.29,314.92 L240.46,314.60 L240.64,314.27 L240.81,313.95 L240.99,313.63 L241.17,313.30 L241.34,312.98 L241.52,312.66 L241.70,312.33 L241.88,312.01 L242.05,311.69 L242.23,311.37 L242.41,311.04 L242.59,310.72 L242.77,310.40 L242.95,310.08 L243.14,309.76 L243.32,309.44 L243.50,309.12 L243.68,308.80 L243.87,308.48 L244.05,308.16 L244.23,307.84 L244.42,307.52 L244.60,307.20 L244.79,306.89 L244.98,306.57 L245.16,306.25 L245.35,305.94 L245.54,305.62 L245.73,305.30 L245.92,304.99 L246.11,304.67 L246.30,304.35 L246.49,304.04 L246.68,303.72 L246.87,303.41 L247.06,303.10 L247.25,302.78 L247.45,302.47 L247.64,302.16 L247.83,301.84 L248.03,301.53 L248.22,301.22 L248.42,300.91 L248.61,300.60 L248.81,300.28 L249.01,299.97 L249.21,299.66 L249.40,299.35 L249.60,299.04 L249.80,298.73 L250.00,298.43 L250.20,298.12 L250.40,297.81 L250.60,297.50 L250.81,297.19 L251.01,296.89 L251.21,296.58 L251.42,296.27 L251.62,295.97 L251.83,295.66 L252.03,295.36 L252.24,295.05 L252.44,294.75 L252.65,294.44 L252.86,294.14 L253.07,293.84 L253.27,293.53 L253.48,293.23 L253.69,292.93 L253.90,292.63 L254.12,292.33 L254.33,292.03 L254.54,291.73 L254.75,291.43 L254.97,291.13 L255.18,290.83 L255.40,290.53 L255.61,290.23 L255.83,289.93 L256.04,289.63 L256.26,289.34 L256.48,289.04 L256.70,288.74 L256.91,288.45 L257.13,288.15 L257.35,287.86 L257.57,287.56 L257.80,287.27 L258.02,286.97 L258.24,286.68 L258.46,286.39 L258.69,286.10 L258.91,285.80 L259.14,285.51 L259.36,285.22 L259.59,284.93 L259.82,284.64 L260.04,284.35 L260.27,284.06 L260.50,283.77 L260.73,283.48 L260.96,283.20 L261.19,282.91 L261.42,282.62 L261.65,282.34 L261.89,282.05 L262.12,281.76 L262.35,281.48 L262.59,281.19 L262.82,280.91 L263.06,280.63 L263.30,280.34 L263.53,280.06 L263.77,279.78 L264.01,279.50 L264.25,279.22 L264.49,278.93 L264.73,278.65 L264.97,278.37 L265.21,278.10 L265.46,277.82 L265.70,277.54 L265.94,277.26" fill="none" stroke="#5592cc" stroke-width="1.8" stroke-linecap="round" stroke-linejoin="round"/>
<path d="M222.58,353.34 L222.71,353.14 L222.84,352.93 L222.97,352.73 L223.10,352.52 L223.23,352.32 L223.35,352.11 L223.48,351.91 L223.61,351.70 L223.73,351.49 L223.86,351.29 L223.98,351.08 L224.10,350.87 L224.23,350.67 L224.35,350.46 L224.47,350.25 L224.59,350.04 L224.72,349.83 L224.84,349.62 L224.96,349.41 L225.08,349.20 L225.20,348.99 L225.32,348.78 L225.43,348.57 L225.55,348.36 L225.67,348.15 L225.79,347.94 L225.90,347.73 L226.02,347.52 L226.14,347.30 L226.25,347.09 L226.37,346.88 L226.48,346.67 L226.60,346.45 L226.71,346.24 L226.82,346.03 L226.94,345.81 L227.05,345.60 L227.16,345.39 L227.27,345.17 L227.39,344.96 L227.50,344.74 L227.61,344.53 L227.72,344.31 L227.83,344.10 L227.94,343.88 L228.05,343.67 L228.16,343.45 L228.27,343.24 L228.38,343.02 L228.48,342.80 L228.59,342.59 L228.70,342.37 L228.81,342.15 L228.92,341.94 L229.02,341.72 L229.13,341.50 L229.24,341.29 L229.34,341.07 L229.45,340.85 L229.55,340.63 L229.66,340.42 L229.77,340.20 L229.87,339.98 L229.98,339.76 L230.08,339.54 L230.18,339.32 L230.29,339.11 L230.39,338.89 L230.50,338.67 L230.60,338.45 L230.70,338.23 L230.81,338.01 L230.91,337.79 L231.01,337.57 L231.12,337.35 L231.22,337.13 L231.32,336.91 L231.42,336.69 L231.53,336.47 L231.63,336.25 L231.73,336.03 L231.83,335.81 L231.93,335.59 L232.04,335.37 L232.14,335.15 L232.24,334.93 L232.34,334.71 L232.44,334.49 L232.54,334.27 L232.64,334.05 L232.74,333.83 L232.85,333.61 L232.95,333.39 L233.05,333.17 L233.15,332.95 L233.25,332.73 L233.35,332.51 L233.45,332.29 L233.55,332.07 L233.65,331.85 L233.75,331.62 L233.85,331.40 L233.95,331.18 L234.05,330.96 L234.16,330.74 L234.26,330.52 L234.36,330.30 L234.46,330.08 L234.56,329.86 L234.66,329.64 L234.76,329.42 L234.86,329.20 L234.96,328.98 L235.06,328.76 L235.16,328.54 L235.27,328.31 L235.37,328.09 L235.47,327.87 L235.57,327.65 L235.67,327.43 L235.77,327.21 L235.87,326.99 L235.98,326.77 L236.08,326.55 L236.18,326.33 L236.28,326.11 L236.38,325.89 L236.49,325.67 L236.59,325.45 L236.69,325.23 L236.79,325.01 L236.90,324.79 L237.00,324.58 L237.10,324.36 L237.21,324.14 L237.31,323.92 L237.42,323.70 L237.52,323.48 L237.62,323.26 L237.73,323.04 L237.83,322.82 L237.94,322.61 L238.04,322.39 L238.15,322.17 L238.25,321.95 L238.36,321.73 L238.47,321.52 L238.57,321.30 L238.68,321.08 L238.79,320.86 L238.89,320.65 L239.00,320.43 L239.11,320.21 L239.22,320.00 L239.32,319.78 L239.43,319.56 L239.54,319.35 L239.65,319.13 L239.76,318.92 L239.87,318.70 L239.98,318.48 L240.09,318.27 L240.20,318.05 L240.31,317.84 L240.42,317.63 L240.53,317.41 L240.65,317.20 L240.76,316.98 L240.87,316.77 L240.98,316.55 L241.10,316.34 L241.21,316.13 L241.33,315.92 L241.44,315.70 L241.56,315.49 L241.67,315.28 L241.79,315.07 L241.90,314.85 L242.02,314.64 L242.14,314.43 L242.26,314.22 L242.37,314.01 L242.49,313.80 L242.61,313.59 L242.73,313.38 L242.85,313.17 L242.97,312.96 L243.09,312.75 L243.21,312.54 L243.33,312.33 L243.46,312.12 L243.58,311.91 L243.70,311.71 L243.83,311.50 L243.95,311.29 L244.08,311.08 L244.20,310.88 L244.33,310.67 L244.45,310.47 L244.58,310.26 L244.71,310.05 L244.83,309.85 L244.96,309.64 L245.09,309.44 L245.22,309.23 L245.35,309.03 L245.48,308.83 L245.61,308.62 L245.75,308.42 L245.88,308.22 L246.01,308.02 L246.15,307.81 L246.28,307.61 L246.42,307.41 L246.55,307.21 L246.69,307.01 L246.82,306.81 L246.96,306.61 L247.10,306.41 L247.24,306.21 L247.38,306.01 L247.52,305.81 L247.66,305.62 L247.80,305.42 L247.94,305.22 L248.08,305.03 L248.23,304.83 L248.37,304.63 L248.52,304.44 L248.66,304.24 L248.81,304.05 L248.96,303.85 L249.10,303.66 L249.25,303.47 L249.40,303.27 L249.55,303.08 L249.70,302.89 L249.85,302.70 L250.01,302.50" fill="none" stroke="#dc8a45" stroke-width="1.8" stroke-linecap="round" stroke-linejoin="round"/>
<path d="M222.39,353.35 L222.52,353.18 L222.64,353.02 L222.77,352.86 L222.89,352.69 L223.01,352.53 L223.13,352.37 L223.25,352.20 L223.37,352.03 L223.49,351.87 L223.60,351.70 L223.72,351.53 L223.83,351.37 L223.95,351.20 L224.06,351.03 L224.17,350.86 L224.28,350.69 L224.39,350.52 L224.50,350.35 L224.61,350.18 L224.72,350.01 L224.82,349.84 L224.93,349.67 L225.04,349.49 L225.14,349.32 L225.24,349.15 L225.35,348.97 L225.45,348.80 L225.55,348.62 L225.65,348.45 L225.75,348.27 L225.85,348.10 L225.95,347.92 L226.04,347.74 L226.14,347.57 L226.24,347.39 L226.33,347.21 L226.43,347.03 L226.52,346.86 L226.61,346.68 L226.71,346.50 L226.80,346.32 L226.89,346.14 L226.98,345.96 L227.07,345.78 L227.16,345.60 L227.25,345.41 L227.33,345.23 L227.42,345.05 L227.51,344.87 L227.59,344.69 L227.68,344.50 L227.76,344.32 L227.85,344.14 L227.93,343.95 L228.01,343.77 L228.10,343.58 L228.18,343.40 L228.26,343.21 L228.34,343.03 L228.42,342.84 L228.50,342.66 L228.58,342.47 L228.66,342.29 L228.74,342.10 L228.82,341.91 L228.90,341.73 L228.97,341.54 L229.05,341.35 L229.13,341.16 L229.20,340.97 L229.28,340.79 L229.35,340.60 L229.43,340.41 L229.50,340.22 L229.57,340.03 L229.65,339.84 L229.72,339.65 L229.79,339.46 L229.87,339.27 L229.94,339.08 L230.01,338.89 L230.08,338.70 L230.15,338.51 L230.22,338.32 L230.29,338.13 L230.36,337.94 L230.43,337.75 L230.50,337.56 L230.57,337.37 L230.64,337.17 L230.71,336.98 L230.78,336.79 L230.85,336.60 L230.92,336.41 L230.98,336.21 L231.05,336.02 L231.12,335.83 L231.19,335.64 L231.25,335.44 L231.32,335.25 L231.39,335.06 L231.45,334.86 L231.52,334.67 L231.59,334.48 L231.65,334.29 L231.72,334.09 L231.79,333.90 L231.85,333.70 L231.92,333.51 L231.98,333.32 L232.05,333.12 L232.11,332.93 L232.18,332.74 L232.24,332.54 L232.31,332.35 L232.38,332.16 L232.44,331.96 L232.51,331.77 L232.57,331.57 L232.64,331.38 L232.70,331.19 L232.77,330.99 L232.83,330.80 L232.90,330.60 L232.96,330.41 L233.03,330.22 L233.09,330.02 L233.16,329.83 L233.22,329.64 L233.29,329.44 L233.36,329.25 L233.42,329.05 L233.49,328.86 L233.55,328.67 L233.62,328.47 L233.69,328.28 L233.75,328.09 L233.82,327.89 L233.89,327.70 L233.95,327.51 L234.02,327.31 L234.09,327.12 L234.16,326.93 L234.22,326.74 L234.29,326.54 L234.36,326.35 L234.43,326.16 L234.50,325.97 L234.56,325.77 L234.63,325.58 L234.70,325.39 L234.77,325.20 L234.84,325.01 L234.91,324.81 L234.98,324.62 L235.05,324.43 L235.12,324.24 L235.20,324.05 L235.27,323.86 L235.34,323.67 L235.41,323.48 L235.48,323.29 L235.56,323.10 L235.63,322.91 L235.70,322.72 L235.78,322.53 L235.85,322.34 L235.93,322.15 L236.00,321.96 L236.08,321.77 L236.16,321.58 L236.23,321.39 L236.31,321.20 L236.39,321.02 L236.46,320.83 L236.54,320.64 L236.62,320.45 L236.70,320.27 L236.78,320.08 L236.86,319.89 L236.94,319.71 L237.02,319.52 L237.11,319.33 L237.19,319.15 L237.27,318.96 L237.36,318.78 L237.44,318.59 L237.52,318.41 L237.61,318.22 L237.70,318.04 L237.78,317.86 L237.87,317.67 L237.96,317.49 L238.05,317.31 L238.13,317.13 L238.22,316.94 L238.31,316.76 L238.41,316.58 L238.50,316.40 L238.59,316.22 L238.68,316.04 L238.78,315.86 L238.87,315.68 L238.96,315.50 L239.06,315.32 L239.16,315.14 L239.25,314.96 L239.35,314.79 L239.45,314.61 L239.55,314.43 L239.65,314.26 L239.75,314.08 L239.85,313.90 L239.96,313.73 L240.06,313.55 L240.16,313.38 L240.27,313.20 L240.37,313.03 L240.48,312.86 L240.59,312.68 L240.70,312.51 L240.81,312.34 L240.92,312.17 L241.03,311.99 L241.14,311.82 L241.25,311.65 L241.36,311.48 L241.48,311.31 L241.59,311.14 L241.71,310.98 L241.83,310.81 L241.95,310.64 L242.07,310.47 L242.19,310.31 L242.31,310.14 L242.43,309.97 L242.55,309.81 L242.68,309.64 L242.80,309.48" fill="none" stroke="#1a1a1a" stroke-width="1.8" stroke-linecap="round" stroke-linejoin="round"/>

<g style="font-family:'Liberation Serif',serif" fill="#1a1a1a" stroke="#1a1a1a" stroke-width="0.25"><text transform="translate(6.50,32.80) scale(1.1,1)" font-size="21.5" text-anchor="start" font-weight="normal" >A</text>
<text transform="translate(41.50,168.20) scale(1.08,1)" font-size="14" text-anchor="end" font-weight="normal" >0</text>
<text transform="translate(41.50,119.43) scale(1.08,1)" font-size="14" text-anchor="end" font-weight="normal" >30</text>
<text transform="translate(41.50,70.67) scale(1.08,1)" font-size="14" text-anchor="end" font-weight="normal" >60</text>
<text transform="translate(41.50,21.90) scale(1.08,1)" font-size="14" text-anchor="end" font-weight="normal" >90</text>
<text transform="translate(54.60,186.20) scale(1.08,1)" font-size="14" text-anchor="middle" font-weight="normal" >0.1</text>
<text transform="translate(120.70,186.20) scale(1.08,1)" font-size="14" text-anchor="middle" font-weight="normal" >10</text>
<text transform="translate(186.80,186.20) scale(1.08,1)" font-size="14" text-anchor="middle" font-weight="normal" >1000</text>
<text transform="translate(252.90,186.20) scale(1.08,1)" font-size="14" text-anchor="middle" font-weight="normal" >100000</text>
<text transform="translate(153.30,196.80) scale(1.08,1)" font-size="14" text-anchor="middle" font-weight="bold" >Frequency [Hz]</text>
<text transform="translate(19.2,94.9) rotate(-90) scale(1.08,1)" font-size="14" font-weight="bold" text-anchor="middle">-Zphase [º]</text>
<path d="M170.5,14.4 H186.8" stroke="#1a1a1a" stroke-width="1.7"/>
<text transform="translate(188.10,18.10) scale(0.995,1)" font-size="11.4" text-anchor="start" font-weight="normal" >TNT/Ab IL-6</text>
<path d="M170.5,27.5 H186.8" stroke="#dc8a45" stroke-width="1.7"/>
<text transform="translate(188.10,31.16) scale(0.995,1)" font-size="11.4" text-anchor="start" font-weight="normal" >IL-6 (5 pg/ml)</text>
<path d="M170.5,40.5 H186.8" stroke="#5592cc" stroke-width="1.7"/>
<text transform="translate(188.10,44.22) scale(0.995,1)" font-size="11.4" text-anchor="start" font-weight="normal" >IL-6 (50 pg/ml)</text>
<path d="M170.5,53.6 H186.8" stroke="#c8323c" stroke-width="1.7"/>
<text transform="translate(188.10,57.28) scale(0.995,1)" font-size="11.4" text-anchor="start" font-weight="normal" >IL-6 (500 pg/ml)</text>
<path d="M170.5,66.6 H186.8" stroke="#f4f03a" stroke-width="1.7"/>
<text transform="translate(188.10,70.34) scale(0.995,1)" font-size="11.4" text-anchor="start" font-weight="normal" >IL-6 (1000 pg/m</text>
<path d="M170.5,79.7 H186.8" stroke="#2f9e62" stroke-width="1.7"/>
<text transform="translate(188.10,83.40) scale(0.995,1)" font-size="11.4" text-anchor="start" font-weight="normal" >IL-6 (2500 pg/m</text>
<text transform="translate(270.30,32.20) scale(1.1,1)" font-size="21.5" text-anchor="start" font-weight="normal" >B</text>
<text transform="translate(326.20,165.40) scale(1.08,1)" font-size="14" text-anchor="end" font-weight="normal" >0</text>
<text transform="translate(326.20,141.27) scale(1.08,1)" font-size="14" text-anchor="end" font-weight="normal" >5000</text>
<text transform="translate(326.20,117.13) scale(1.08,1)" font-size="14" text-anchor="end" font-weight="normal" >10000</text>
<text transform="translate(326.20,93.00) scale(1.08,1)" font-size="14" text-anchor="end" font-weight="normal" >15000</text>
<text transform="translate(326.20,68.87) scale(1.08,1)" font-size="14" text-anchor="end" font-weight="normal" >20000</text>
<text transform="translate(326.20,44.73) scale(1.08,1)" font-size="14" text-anchor="end" font-weight="normal" >25000</text>
<text transform="translate(326.20,20.60) scale(1.08,1)" font-size="14" text-anchor="end" font-weight="normal" >30000</text>
<text transform="translate(339.50,183.40) scale(1.08,1)" font-size="14" text-anchor="middle" font-weight="normal" >0.1</text>
<text transform="translate(399.17,183.40) scale(1.08,1)" font-size="14" text-anchor="middle" font-weight="normal" >10</text>
<text transform="translate(458.83,183.40) scale(1.08,1)" font-size="14" text-anchor="middle" font-weight="normal" >1000</text>
<text transform="translate(518.50,183.40) scale(1.08,1)" font-size="14" text-anchor="middle" font-weight="normal" >100000</text>
<text transform="translate(428.60,196.40) scale(1.08,1)" font-size="14" text-anchor="middle" font-weight="bold" >Frequency [Hz]</text>
<text transform="translate(282.9,88.2) rotate(-90) scale(1.08,1)" font-size="14" font-weight="bold" text-anchor="middle">|Z| [Ω]</text>
<path d="M400.4,14.5 H416.8" stroke="#1a1a1a" stroke-width="2"/>
<text transform="translate(417.40,19.40) scale(1.08,1)" font-size="14" text-anchor="start" font-weight="normal" >TNT/Ab IL-8</text>
<path d="M400.4,30.8 H416.8" stroke="#dc8a45" stroke-width="2"/>
<text transform="translate(417.40,35.73) scale(1.08,1)" font-size="14" text-anchor="start" font-weight="normal" >IL-8 (5 pg/ml)</text>
<path d="M400.4,47.2 H416.8" stroke="#5592cc" stroke-width="2"/>
<text transform="translate(417.40,52.06) scale(1.08,1)" font-size="14" text-anchor="start" font-weight="normal" >IL-8 (50 pg/ml)</text>
<path d="M400.4,63.5 H416.8" stroke="#c8323c" stroke-width="2"/>
<text transform="translate(417.40,68.39) scale(1.08,1)" font-size="14" text-anchor="start" font-weight="normal" >IL-8 (300 pg/ml)</text>
<path d="M400.4,79.8 H416.8" stroke="#f4f03a" stroke-width="2"/>
<text transform="translate(417.40,84.72) scale(1.08,1)" font-size="14" text-anchor="start" font-weight="normal" >IL-8 (600 pg/ml)</text>
<path d="M400.4,96.1 H416.8" stroke="#2f9e62" stroke-width="2"/>
<text transform="translate(417.40,101.05) scale(1.08,1)" font-size="14" text-anchor="start" font-weight="normal" >IL-8 (1200 pg/ml)</text>
<path d="M400.4,112.5 H416.8" stroke="#7545a0" stroke-width="2"/>
<text transform="translate(417.40,117.38) scale(1.08,1)" font-size="14" text-anchor="start" font-weight="normal" >IL-8 (2500 pg/ml)</text>
<text transform="translate(150.60,227.80) scale(1.05,1)" font-size="23" text-anchor="start" font-weight="normal" >C</text>
<text transform="translate(208.20,358.40) scale(1.08,1)" font-size="14" text-anchor="end" font-weight="normal" >0</text>
<text transform="translate(208.20,338.03) scale(1.08,1)" font-size="14" text-anchor="end" font-weight="normal" >2000</text>
<text transform="translate(208.20,317.66) scale(1.08,1)" font-size="14" text-anchor="end" font-weight="normal" >4000</text>
<text transform="translate(208.20,297.29) scale(1.08,1)" font-size="14" text-anchor="end" font-weight="normal" >6000</text>
<text transform="translate(208.20,276.91) scale(1.08,1)" font-size="14" text-anchor="end" font-weight="normal" >8000</text>
<text transform="translate(208.20,256.54) scale(1.08,1)" font-size="14" text-anchor="end" font-weight="normal" >10000</text>
<text transform="translate(208.20,236.17) scale(1.08,1)" font-size="14" text-anchor="end" font-weight="normal" >12000</text>
<text transform="translate(208.20,215.80) scale(1.08,1)" font-size="14" text-anchor="end" font-weight="normal" >14000</text>
<text transform="translate(221.70,376.60) scale(1.08,1)" font-size="14" text-anchor="middle" font-weight="normal" >0</text>
<text transform="translate(295.70,376.60) scale(1.08,1)" font-size="14" text-anchor="middle" font-weight="normal" >2000</text>
<text transform="translate(369.70,376.60) scale(1.08,1)" font-size="14" text-anchor="middle" font-weight="normal" >4000</text>
<text transform="translate(291.90,390.40) scale(1.08,1)" font-size="14" text-anchor="middle" font-weight="bold" >ReZ [Ω]</text>
<text transform="translate(164.1,282.9) rotate(-90) scale(1.08,1)" font-size="14" font-weight="bold" text-anchor="middle">-ImZ [Ω]</text>
<path d="M286.3,263.2 H302.4" stroke="#7545a0" stroke-width="2"/>
<text transform="translate(302.80,268.10) scale(1.08,1)" font-size="14" text-anchor="start" font-weight="normal" >TNFa (1000 pg/ml)</text>
<path d="M286.3,279.1 H302.4" stroke="#f4f03a" stroke-width="2.8"/>
<text transform="translate(302.80,284.00) scale(1.08,1)" font-size="14" text-anchor="start" font-weight="normal" >TNFa (500 pg/ml)</text>
<path d="M286.3,295.0 H302.4" stroke="#c8323c" stroke-width="2"/>
<text transform="translate(302.80,299.90) scale(1.08,1)" font-size="14" text-anchor="start" font-weight="normal" >TNFa (250 pg/ml)</text>
<path d="M286.3,310.9 H302.4" stroke="#5592cc" stroke-width="2"/>
<text transform="translate(302.80,315.80) scale(1.08,1)" font-size="14" text-anchor="start" font-weight="normal" >TNFa (50 pg/ml)</text>
<path d="M286.3,326.8 H302.4" stroke="#dc8a45" stroke-width="2"/>
<text transform="translate(302.80,331.70) scale(1.08,1)" font-size="14" text-anchor="start" font-weight="normal" >TNFa (5 pg/ml)</text>
<path d="M286.3,342.7 H302.4" stroke="#1a1a1a" stroke-width="2"/>
<text transform="translate(302.80,347.60) scale(1.08,1)" font-size="14" text-anchor="start" font-weight="normal" >TNT/Ab TNFa</text></g>
</svg>
</body></html>
